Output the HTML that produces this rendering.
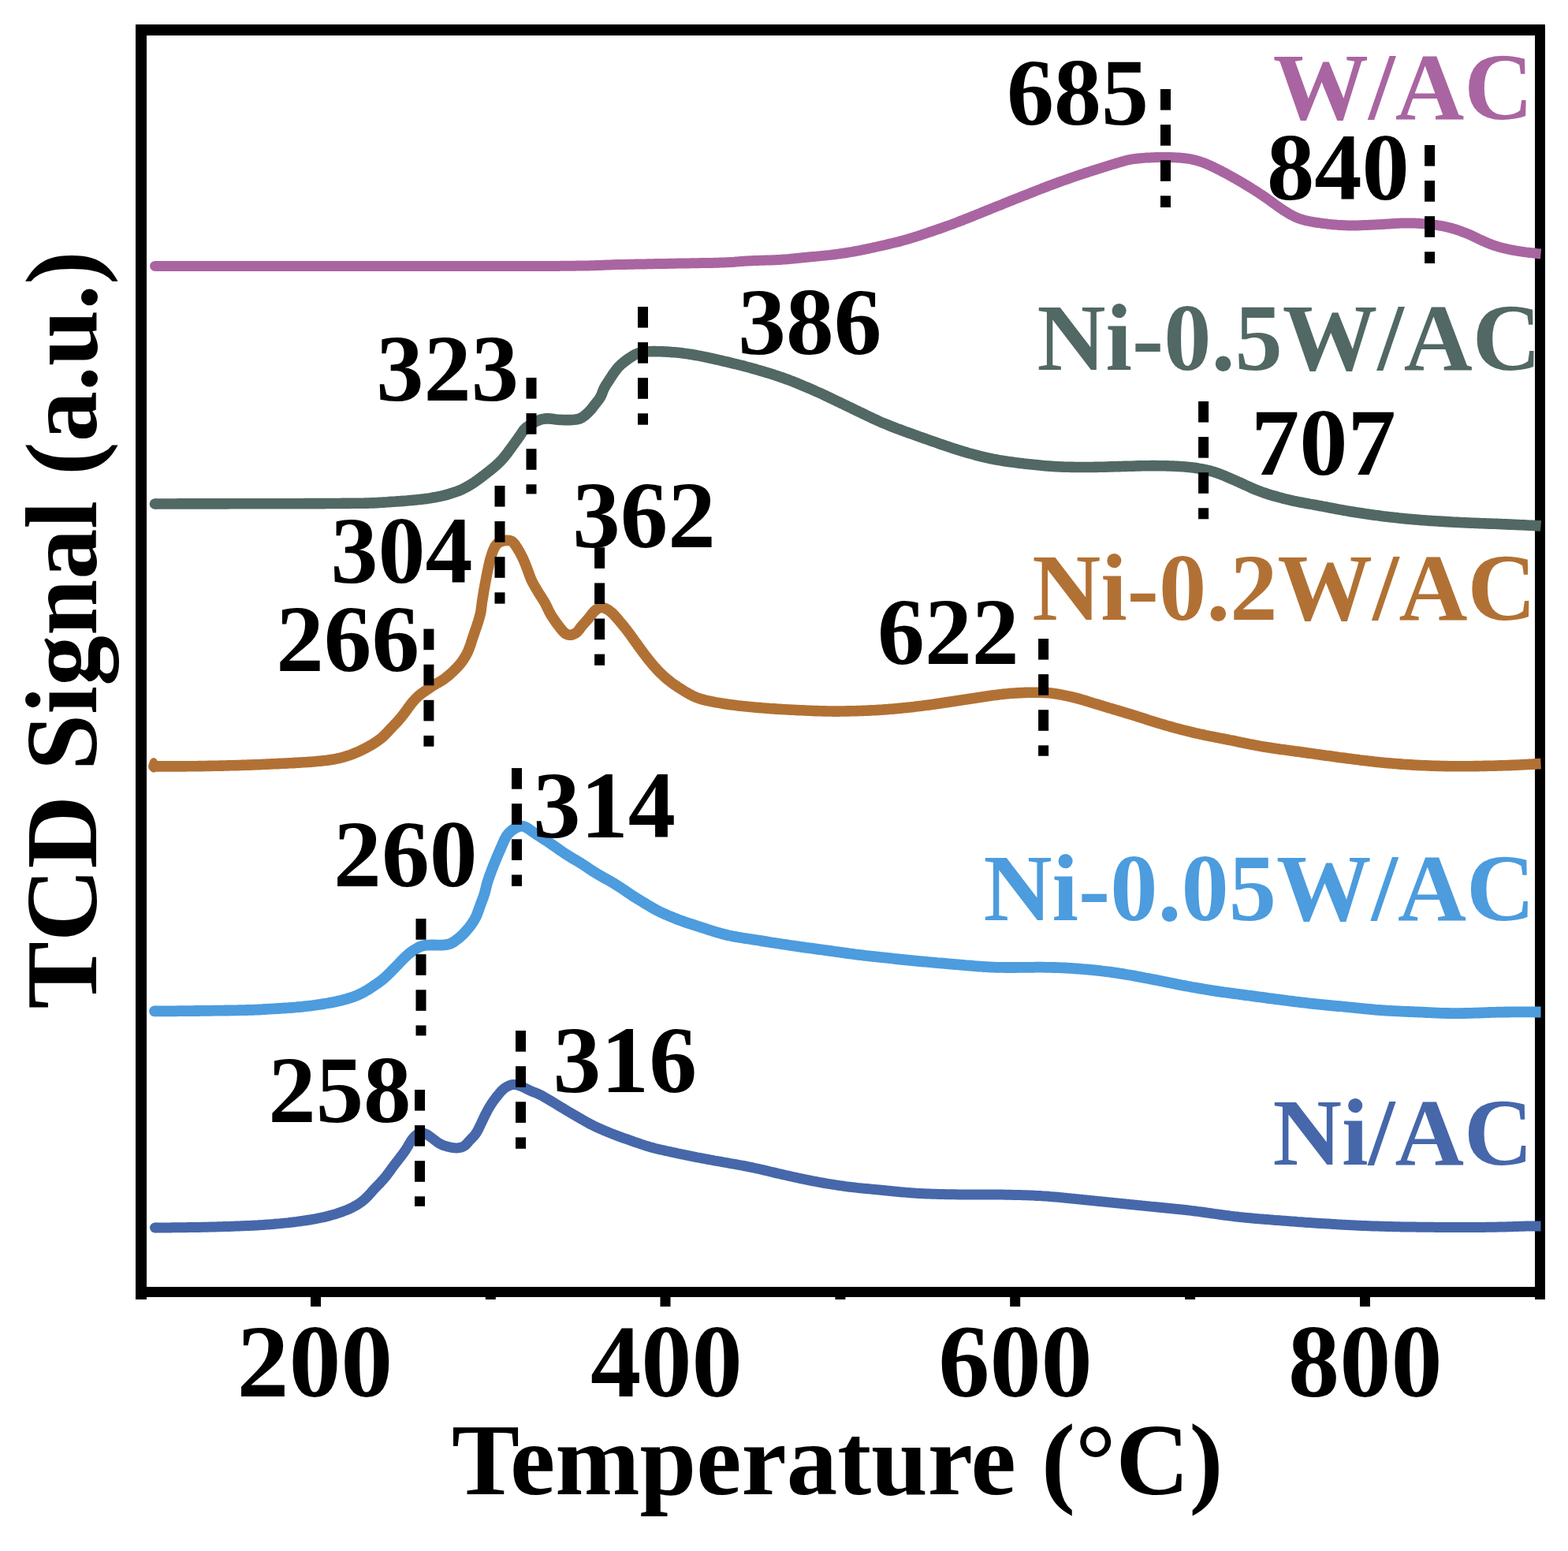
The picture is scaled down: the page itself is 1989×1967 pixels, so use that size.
<!DOCTYPE html><html><head><meta charset="utf-8"><title>TPR</title><style>html,body{margin:0;padding:0;background:#fff;}svg{display:block;}text{font-family:"Liberation Serif","Times New Roman",serif;font-weight:bold;}</style></head><body>
<svg width="1989" height="1967" viewBox="0 0 1989 1967">
<rect width="1989" height="1967" fill="#fff"/>
<g fill="#000">
<rect x="172" y="31" width="1788" height="14"/>
<rect x="172" y="1632" width="1788" height="13"/>
<rect x="172" y="31" width="14" height="1617"/>
<rect x="1947" y="31" width="13" height="1617"/>
<rect x="394.0" y="1640" width="13" height="17"/>
<rect x="837.5" y="1640" width="13" height="17"/>
<rect x="1281.2" y="1640" width="13" height="17"/>
<rect x="1725.0" y="1640" width="13" height="17"/>
<rect x="615.8" y="1640" width="13" height="8"/>
<rect x="1059.4" y="1640" width="13" height="8"/>
<rect x="1503.1" y="1640" width="13" height="8"/>
</g>
<path d="M196.6 337.4 L198.6 337.4 L201.6 337.4 L203.6 337.4 L206.6 337.4 L208.6 337.4 L211.6 337.4 L213.6 337.4 L216.6 337.4 L218.6 337.4 L221.6 337.4 L223.6 337.4 L226.6 337.4 L228.6 337.4 L231.6 337.4 L233.6 337.4 L236.6 337.4 L238.6 337.4 L241.6 337.4 L243.6 337.4 L246.6 337.4 L248.6 337.4 L251.6 337.4 L253.6 337.4 L256.6 337.4 L258.6 337.4 L261.6 337.4 L263.6 337.4 L266.6 337.4 L268.6 337.4 L271.6 337.4 L273.6 337.5 L276.6 337.5 L278.6 337.5 L281.6 337.5 L283.6 337.5 L286.6 337.5 L288.6 337.5 L291.6 337.5 L293.6 337.5 L296.6 337.5 L298.6 337.5 L301.6 337.5 L303.6 337.5 L306.6 337.5 L308.6 337.5 L311.6 337.5 L313.6 337.5 L316.6 337.5 L318.6 337.5 L321.6 337.5 L323.6 337.5 L326.6 337.5 L328.6 337.5 L331.6 337.5 L333.6 337.5 L336.6 337.5 L338.6 337.5 L341.6 337.5 L343.6 337.5 L346.6 337.5 L348.6 337.5 L351.6 337.5 L353.6 337.5 L356.6 337.5 L358.6 337.5 L361.6 337.5 L363.6 337.5 L366.6 337.5 L368.6 337.5 L371.6 337.5 L373.6 337.5 L376.6 337.5 L378.6 337.5 L381.6 337.5 L383.6 337.5 L386.6 337.5 L388.6 337.5 L391.6 337.5 L393.6 337.5 L396.6 337.6 L398.6 337.6 L401.6 337.6 L403.6 337.6 L406.6 337.6 L408.6 337.6 L411.6 337.6 L413.6 337.6 L416.6 337.6 L418.6 337.6 L421.6 337.6 L423.6 337.6 L426.6 337.6 L428.6 337.6 L431.6 337.6 L433.6 337.6 L436.6 337.6 L438.6 337.6 L441.6 337.6 L443.6 337.6 L446.6 337.6 L448.6 337.6 L451.6 337.6 L453.6 337.6 L456.6 337.6 L458.6 337.6 L461.6 337.6 L463.6 337.6 L466.6 337.6 L468.6 337.6 L471.6 337.6 L473.6 337.6 L476.6 337.6 L478.6 337.6 L481.6 337.6 L483.6 337.6 L486.6 337.6 L488.6 337.6 L491.6 337.6 L493.6 337.6 L496.6 337.6 L498.6 337.6 L501.6 337.6 L503.6 337.6 L506.6 337.6 L508.6 337.6 L511.6 337.6 L513.6 337.6 L516.6 337.6 L518.6 337.6 L521.6 337.6 L523.6 337.6 L526.6 337.6 L528.6 337.6 L531.6 337.6 L533.6 337.6 L536.6 337.6 L538.6 337.6 L541.6 337.6 L543.6 337.6 L546.6 337.6 L548.6 337.6 L551.6 337.6 L553.6 337.6 L556.6 337.6 L558.6 337.6 L561.6 337.6 L563.6 337.6 L566.6 337.6 L568.6 337.6 L571.6 337.6 L573.6 337.6 L576.6 337.6 L578.6 337.6 L581.6 337.6 L583.6 337.6 L586.6 337.6 L588.6 337.6 L591.6 337.6 L593.6 337.6 L596.6 337.6 L598.6 337.6 L601.6 337.6 L603.6 337.6 L606.6 337.6 L608.6 337.6 L611.6 337.6 L613.6 337.6 L616.6 337.6 L618.6 337.6 L621.6 337.6 L623.6 337.6 L626.6 337.6 L628.6 337.6 L631.6 337.6 L633.6 337.6 L636.6 337.6 L638.6 337.6 L641.6 337.6 L643.6 337.6 L646.6 337.6 L648.6 337.6 L651.6 337.6 L653.6 337.6 L656.6 337.6 L658.6 337.6 L661.6 337.5 L663.6 337.5 L666.6 337.5 L668.6 337.5 L671.6 337.5 L673.6 337.5 L676.6 337.5 L678.6 337.5 L681.6 337.5 L683.6 337.5 L686.6 337.5 L688.6 337.5 L691.6 337.5 L693.6 337.4 L696.6 337.4 L698.6 337.4 L701.6 337.4 L703.6 337.4 L706.6 337.4 L708.6 337.4 L711.6 337.3 L713.6 337.3 L716.6 337.3 L718.6 337.3 L721.6 337.3 L723.6 337.2 L726.6 337.2 L728.6 337.2 L731.6 337.1 L733.6 337.1 L736.6 337.1 L738.6 337.0 L741.6 337.0 L743.6 337.0 L746.6 336.9 L748.6 336.8 L751.6 336.8 L753.6 336.7 L756.6 336.6 L758.6 336.5 L761.6 336.4 L763.6 336.3 L766.6 336.2 L768.6 336.1 L771.6 336.0 L773.6 335.9 L776.6 335.8 L778.6 335.7 L781.6 335.6 L783.6 335.6 L786.6 335.5 L788.6 335.5 L791.6 335.4 L793.6 335.4 L796.6 335.3 L798.6 335.3 L801.6 335.2 L803.6 335.2 L806.6 335.1 L808.6 335.1 L811.6 335.0 L813.6 335.0 L816.6 334.9 L818.6 334.9 L821.6 334.8 L823.6 334.8 L826.6 334.7 L828.6 334.7 L831.6 334.6 L833.6 334.6 L836.6 334.6 L838.6 334.5 L841.6 334.5 L843.6 334.4 L846.6 334.4 L848.6 334.3 L851.6 334.3 L853.6 334.2 L856.6 334.2 L858.6 334.1 L861.6 334.1 L863.6 334.0 L866.6 334.0 L868.6 334.0 L871.6 333.9 L873.6 333.9 L876.6 333.8 L878.6 333.8 L881.6 333.7 L883.6 333.7 L886.6 333.7 L888.6 333.6 L891.6 333.6 L893.6 333.6 L896.6 333.5 L898.6 333.5 L901.5 333.4 L903.5 333.4 L906.5 333.3 L908.5 333.3 L911.5 333.2 L913.5 333.1 L916.5 333.0 L918.5 332.9 L921.5 332.8 L923.5 332.7 L926.5 332.5 L928.5 332.4 L931.5 332.2 L933.5 332.0 L936.5 331.8 L938.5 331.6 L941.5 331.4 L943.5 331.3 L946.5 331.1 L948.5 331.0 L951.5 330.8 L953.5 330.7 L956.5 330.6 L958.5 330.5 L961.5 330.4 L963.5 330.3 L966.5 330.2 L968.5 330.2 L971.5 330.1 L973.5 330.0 L976.4 329.9 L978.4 329.9 L981.4 329.8 L983.4 329.7 L986.4 329.5 L988.4 329.4 L991.4 329.2 L993.4 329.1 L996.4 328.9 L998.4 328.7 L1001.4 328.5 L1003.4 328.3 L1006.4 328.0 L1008.4 327.8 L1011.4 327.5 L1013.3 327.3 L1016.3 327.0 L1018.3 326.8 L1021.3 326.5 L1023.3 326.3 L1026.3 326.0 L1028.3 325.8 L1031.3 325.5 L1033.2 325.4 L1036.2 325.1 L1038.2 324.9 L1041.2 324.6 L1043.2 324.4 L1046.2 324.1 L1048.2 323.9 L1051.2 323.6 L1053.1 323.4 L1056.1 323.0 L1058.1 322.8 L1061.1 322.4 L1063.1 322.1 L1066.0 321.7 L1068.0 321.4 L1071.0 321.0 L1073.0 320.7 L1075.9 320.2 L1077.9 319.9 L1080.9 319.4 L1082.8 319.0 L1085.8 318.5 L1087.7 318.1 L1090.7 317.6 L1092.6 317.2 L1095.6 316.6 L1097.5 316.2 L1100.5 315.6 L1102.4 315.2 L1105.4 314.5 L1107.3 314.1 L1110.2 313.4 L1112.2 313.0 L1115.1 312.3 L1117.1 311.9 L1120.0 311.2 L1121.9 310.8 L1124.9 310.1 L1126.8 309.6 L1129.7 308.9 L1131.7 308.5 L1134.6 307.8 L1136.5 307.3 L1139.5 306.6 L1141.4 306.1 L1144.3 305.3 L1146.2 304.8 L1149.1 304.0 L1151.0 303.4 L1153.9 302.6 L1155.8 302.0 L1158.7 301.1 L1160.6 300.5 L1163.5 299.6 L1165.4 299.0 L1168.2 298.1 L1170.1 297.4 L1172.9 296.5 L1174.8 295.9 L1177.7 294.9 L1179.6 294.2 L1182.4 293.3 L1184.3 292.6 L1187.1 291.6 L1189.0 291.0 L1191.9 290.0 L1193.8 289.3 L1196.6 288.3 L1198.5 287.7 L1201.3 286.7 L1203.2 286.0 L1206.0 285.0 L1207.9 284.3 L1210.7 283.2 L1212.6 282.5 L1215.4 281.5 L1217.2 280.7 L1220.0 279.7 L1221.9 278.9 L1224.7 277.8 L1226.5 277.1 L1229.3 276.0 L1231.2 275.2 L1234.0 274.1 L1235.8 273.4 L1238.6 272.2 L1240.5 271.5 L1243.2 270.4 L1245.1 269.6 L1247.9 268.5 L1249.7 267.7 L1252.5 266.6 L1254.4 265.9 L1257.1 264.8 L1259.0 264.0 L1261.8 262.9 L1263.6 262.1 L1266.4 261.0 L1268.3 260.3 L1271.1 259.2 L1272.9 258.4 L1275.7 257.3 L1277.6 256.5 L1280.3 255.4 L1282.2 254.7 L1285.0 253.6 L1286.8 252.8 L1289.6 251.7 L1291.5 251.0 L1294.3 249.9 L1296.1 249.1 L1298.9 248.0 L1300.8 247.3 L1303.6 246.2 L1305.4 245.5 L1308.2 244.4 L1310.1 243.6 L1312.9 242.5 L1314.7 241.8 L1317.5 240.7 L1319.4 240.0 L1322.2 238.9 L1324.1 238.2 L1326.9 237.1 L1328.7 236.4 L1331.5 235.3 L1333.4 234.6 L1336.2 233.6 L1338.1 232.9 L1340.9 231.9 L1342.8 231.2 L1345.6 230.2 L1347.5 229.5 L1350.3 228.5 L1352.2 227.8 L1355.0 226.8 L1356.9 226.2 L1359.8 225.2 L1361.7 224.5 L1364.5 223.5 L1366.4 222.9 L1369.2 221.9 L1371.1 221.3 L1374.0 220.3 L1375.9 219.7 L1378.7 218.8 L1380.6 218.1 L1383.5 217.2 L1385.4 216.6 L1388.2 215.7 L1390.1 215.1 L1393.0 214.2 L1394.9 213.6 L1397.8 212.7 L1399.7 212.1 L1402.5 211.2 L1404.4 210.6 L1407.3 209.7 L1409.2 209.1 L1412.1 208.3 L1414.0 207.7 L1416.9 206.8 L1418.8 206.3 L1421.7 205.4 L1423.6 204.9 L1426.5 204.0 L1428.4 203.5 L1431.3 202.8 L1433.3 202.4 L1436.2 201.9 L1438.2 201.6 L1441.2 201.2 L1443.2 201.0 L1446.2 200.7 L1448.2 200.5 L1451.1 200.3 L1453.1 200.1 L1456.1 200.0 L1458.1 199.9 L1461.1 199.7 L1463.1 199.7 L1466.1 199.6 L1468.1 199.5 L1471.1 199.5 L1473.1 199.5 L1476.1 199.5 L1478.1 199.5 L1481.1 199.5 L1483.1 199.5 L1486.1 199.6 L1488.1 199.7 L1491.1 199.8 L1493.1 199.9 L1496.1 200.1 L1498.1 200.2 L1501.1 200.5 L1503.1 200.7 L1506.1 201.1 L1508.0 201.4 L1511.0 201.9 L1512.9 202.3 L1515.9 203.0 L1517.8 203.6 L1520.7 204.4 L1522.6 205.0 L1525.4 206.0 L1527.3 206.7 L1530.1 207.8 L1531.9 208.6 L1534.7 209.8 L1536.5 210.6 L1539.2 211.9 L1541.0 212.8 L1543.7 214.1 L1545.5 215.0 L1548.1 216.3 L1549.9 217.3 L1552.6 218.6 L1554.3 219.6 L1557.0 221.0 L1558.7 222.0 L1561.4 223.4 L1563.1 224.4 L1565.7 225.9 L1567.5 226.9 L1570.1 228.4 L1571.8 229.4 L1574.4 230.9 L1576.1 231.9 L1578.7 233.4 L1580.4 234.5 L1583.0 236.0 L1584.7 237.1 L1587.2 238.6 L1588.9 239.7 L1591.5 241.3 L1593.1 242.4 L1595.7 244.0 L1597.3 245.1 L1599.8 246.7 L1601.5 247.8 L1604.0 249.5 L1605.6 250.7 L1608.1 252.4 L1609.7 253.6 L1612.1 255.3 L1613.7 256.5 L1616.1 258.3 L1617.8 259.5 L1620.2 261.2 L1621.8 262.4 L1624.3 264.1 L1626.0 265.2 L1628.4 266.9 L1630.1 267.9 L1632.7 269.5 L1634.4 270.6 L1637.0 272.1 L1638.7 273.0 L1641.4 274.3 L1643.2 275.2 L1645.9 276.4 L1647.8 277.1 L1650.6 278.0 L1652.5 278.6 L1655.4 279.4 L1657.3 279.9 L1660.2 280.5 L1662.2 280.9 L1665.1 281.4 L1667.1 281.8 L1670.1 282.2 L1672.1 282.5 L1675.0 282.9 L1677.0 283.2 L1680.0 283.6 L1682.0 283.8 L1684.9 284.2 L1686.9 284.4 L1689.9 284.7 L1691.9 284.9 L1694.9 285.1 L1696.9 285.3 L1699.9 285.5 L1701.9 285.6 L1704.9 285.7 L1706.9 285.8 L1709.9 285.9 L1711.9 285.9 L1714.9 285.9 L1716.9 285.9 L1719.9 285.9 L1721.9 285.9 L1724.9 285.8 L1726.9 285.7 L1729.9 285.6 L1731.9 285.5 L1734.8 285.4 L1736.8 285.3 L1739.8 285.2 L1741.8 285.1 L1744.8 284.9 L1746.8 284.8 L1749.8 284.7 L1751.8 284.6 L1754.8 284.4 L1756.8 284.3 L1759.8 284.1 L1761.8 283.9 L1764.8 283.7 L1766.8 283.6 L1769.8 283.4 L1771.8 283.3 L1774.8 283.2 L1776.8 283.1 L1779.8 283.0 L1781.8 283.0 L1784.8 282.9 L1786.8 282.9 L1789.8 283.0 L1791.8 283.0 L1794.8 283.1 L1796.8 283.2 L1799.8 283.3 L1801.8 283.5 L1804.7 283.7 L1806.7 283.8 L1809.7 284.1 L1811.7 284.2 L1814.7 284.6 L1816.7 284.8 L1819.7 285.1 L1821.6 285.4 L1824.6 285.9 L1826.6 286.2 L1829.5 286.7 L1831.5 287.1 L1834.4 287.7 L1836.4 288.2 L1839.3 288.9 L1841.2 289.4 L1844.1 290.2 L1846.0 290.8 L1848.8 291.7 L1850.7 292.4 L1853.6 293.4 L1855.4 294.1 L1858.2 295.1 L1860.1 295.9 L1862.9 297.0 L1864.7 297.8 L1867.4 299.0 L1869.2 299.9 L1871.9 301.2 L1873.7 302.0 L1876.4 303.4 L1878.2 304.2 L1881.0 305.5 L1882.8 306.3 L1885.5 307.5 L1887.3 308.3 L1890.1 309.4 L1892.0 310.1 L1894.8 311.1 L1896.7 311.8 L1899.6 312.6 L1901.5 313.2 L1904.4 314.0 L1906.3 314.5 L1909.2 315.2 L1911.2 315.6 L1914.1 316.3 L1916.1 316.7 L1919.0 317.3 L1921.0 317.6 L1923.9 318.1 L1925.9 318.5 L1928.9 318.9 L1930.8 319.2 L1933.8 319.6 L1935.8 319.9 L1938.8 320.2 L1940.7 320.5 L1943.7 320.8 L1945.7 321.0 L1948.6 321.4 L1950.6 321.6 L1953.5 321.9 L1954.5 322.0" fill="none" stroke="#A965A1" stroke-width="13.0" stroke-linejoin="round"/>
<circle cx="196.6" cy="337.4" r="6.50" fill="#A965A1"/>
<path d="M196.5 639.0 L198.5 639.0 L201.5 639.0 L203.5 639.0 L206.5 639.0 L208.5 639.0 L211.5 639.0 L213.5 639.0 L216.5 639.0 L218.5 639.0 L221.5 639.0 L223.5 639.0 L226.5 638.9 L228.5 638.9 L231.5 638.9 L233.5 638.9 L236.5 638.9 L238.5 638.9 L241.5 638.9 L243.5 638.9 L246.5 638.9 L248.5 638.9 L251.5 638.9 L253.5 638.9 L256.5 638.9 L258.5 638.9 L261.5 638.9 L263.5 638.9 L266.5 638.9 L268.5 638.9 L271.5 638.9 L273.5 638.9 L276.5 638.9 L278.5 638.9 L281.5 638.9 L283.5 638.9 L286.5 638.9 L288.5 638.9 L291.5 638.8 L293.5 638.8 L296.5 638.8 L298.5 638.8 L301.5 638.8 L303.5 638.8 L306.5 638.8 L308.5 638.8 L311.5 638.8 L313.5 638.8 L316.5 638.8 L318.5 638.8 L321.5 638.8 L323.5 638.8 L326.5 638.8 L328.5 638.8 L331.5 638.8 L333.5 638.8 L336.5 638.8 L338.5 638.8 L341.5 638.8 L343.5 638.8 L346.5 638.7 L348.5 638.7 L351.5 638.7 L353.5 638.7 L356.5 638.7 L358.5 638.7 L361.5 638.7 L363.5 638.7 L366.5 638.7 L368.5 638.7 L371.5 638.7 L373.5 638.7 L376.5 638.7 L378.5 638.7 L381.5 638.7 L383.5 638.7 L386.5 638.6 L388.5 638.6 L391.5 638.6 L393.5 638.6 L396.5 638.6 L398.5 638.6 L401.5 638.6 L403.5 638.6 L406.5 638.6 L408.5 638.6 L411.5 638.6 L413.5 638.5 L416.5 638.5 L418.5 638.5 L421.5 638.5 L423.5 638.5 L426.5 638.5 L428.5 638.5 L431.5 638.5 L433.5 638.4 L436.5 638.4 L438.5 638.4 L441.5 638.4 L443.5 638.4 L446.5 638.3 L448.5 638.3 L451.5 638.3 L453.5 638.3 L456.5 638.2 L458.5 638.2 L461.5 638.2 L463.5 638.1 L466.5 638.1 L468.5 638.0 L471.5 637.9 L473.5 637.9 L476.5 637.7 L478.5 637.6 L481.5 637.4 L483.5 637.3 L486.5 637.1 L488.5 637.0 L491.5 636.8 L493.4 636.6 L496.4 636.4 L498.4 636.3 L501.4 636.1 L503.4 635.9 L506.4 635.7 L508.4 635.6 L511.4 635.4 L513.4 635.2 L516.4 635.0 L518.4 634.8 L521.4 634.5 L523.4 634.4 L526.3 634.1 L528.3 633.9 L531.3 633.6 L533.3 633.4 L536.3 633.0 L538.3 632.8 L541.2 632.4 L543.2 632.1 L546.2 631.7 L548.2 631.3 L551.1 630.8 L553.1 630.5 L556.0 629.9 L558.0 629.5 L560.9 628.8 L562.9 628.4 L565.8 627.6 L567.7 627.1 L570.6 626.2 L572.5 625.7 L575.3 624.7 L577.2 624.1 L580.0 623.1 L581.9 622.4 L584.7 621.2 L586.5 620.4 L589.2 619.0 L591.0 618.1 L593.6 616.7 L595.3 615.7 L597.9 614.1 L599.6 613.0 L602.1 611.4 L603.7 610.2 L606.2 608.5 L607.8 607.3 L610.2 605.5 L611.8 604.3 L614.1 602.5 L615.7 601.2 L618.1 599.4 L619.6 598.2 L622.0 596.3 L623.6 595.1 L625.9 593.2 L627.4 591.9 L629.7 589.9 L631.1 588.5 L633.3 586.5 L634.7 585.1 L636.8 582.9 L638.1 581.4 L640.0 579.1 L641.3 577.5 L643.1 575.2 L644.3 573.6 L646.1 571.2 L647.3 569.5 L649.1 567.1 L650.2 565.5 L652.0 563.1 L653.2 561.4 L654.9 559.0 L656.1 557.4 L657.8 554.9 L659.0 553.3 L660.6 550.8 L661.7 549.1 L663.4 546.7 L664.6 545.1 L666.7 543.0 L668.2 541.7 L670.7 539.9 L672.3 538.8 L674.8 537.2 L676.6 536.2 L679.2 534.8 L681.0 533.9 L683.8 532.8 L685.7 532.1 L688.6 531.4 L690.6 531.1 L693.5 530.9 L695.5 530.9 L698.5 531.1 L700.5 531.3 L703.5 531.7 L705.5 532.0 L708.4 532.3 L710.4 532.4 L713.4 532.5 L715.4 532.6 L718.4 532.6 L720.4 532.6 L723.4 532.6 L725.4 532.5 L728.4 532.3 L730.4 532.1 L733.3 531.5 L735.2 531.0 L737.9 529.7 L739.6 528.6 L742.0 526.8 L743.5 525.5 L745.7 523.5 L747.1 522.1 L749.2 519.9 L750.4 518.4 L752.3 516.0 L753.5 514.4 L755.3 512.1 L756.6 510.5 L758.5 508.1 L759.7 506.5 L761.3 504.1 L762.3 502.3 L763.5 499.6 L764.1 497.7 L765.2 494.9 L766.0 493.1 L767.4 490.4 L768.4 488.7 L770.0 486.2 L771.1 484.5 L772.8 482.0 L773.8 480.3 L775.4 477.8 L776.5 476.1 L778.2 473.6 L779.4 472.0 L781.2 469.6 L782.4 468.0 L784.3 465.7 L785.7 464.3 L787.9 462.2 L789.4 460.9 L791.7 459.0 L793.3 457.8 L795.7 456.0 L797.3 454.8 L799.8 453.2 L801.5 452.1 L804.1 450.5 L805.8 449.6 L808.6 448.4 L810.4 447.7 L813.3 447.0 L815.3 446.6 L818.3 446.2 L820.2 446.0 L823.2 445.8 L825.2 445.7 L828.2 445.6 L830.2 445.6 L833.2 445.7 L835.2 445.7 L838.2 445.8 L840.2 445.9 L843.2 446.0 L845.2 446.1 L848.2 446.3 L850.2 446.4 L853.2 446.7 L855.2 446.8 L858.1 447.1 L860.1 447.3 L863.1 447.6 L865.1 447.8 L868.1 448.2 L870.1 448.4 L873.0 448.9 L875.0 449.2 L878.0 449.6 L879.9 450.0 L882.9 450.5 L884.9 450.9 L887.8 451.4 L889.8 451.8 L892.7 452.4 L894.7 452.8 L897.6 453.4 L899.5 453.9 L902.5 454.5 L904.4 454.9 L907.4 455.6 L909.3 456.0 L912.2 456.7 L914.2 457.1 L917.1 457.8 L919.1 458.3 L922.0 458.9 L923.9 459.4 L926.8 460.1 L928.8 460.6 L931.7 461.3 L933.7 461.7 L936.6 462.5 L938.5 463.0 L941.4 463.7 L943.3 464.2 L946.2 465.0 L948.2 465.5 L951.1 466.3 L953.0 466.8 L955.9 467.6 L957.8 468.1 L960.7 469.0 L962.6 469.5 L965.5 470.4 L967.4 470.9 L970.3 471.8 L972.2 472.4 L975.1 473.2 L977.0 473.8 L979.8 474.7 L981.8 475.3 L984.6 476.3 L986.5 476.9 L989.3 477.9 L991.2 478.5 L994.1 479.5 L995.9 480.2 L998.8 481.2 L1000.6 481.9 L1003.4 483.0 L1005.3 483.7 L1008.1 484.8 L1009.9 485.6 L1012.7 486.7 L1014.6 487.5 L1017.3 488.6 L1019.2 489.4 L1021.9 490.6 L1023.8 491.3 L1026.5 492.5 L1028.4 493.3 L1031.1 494.5 L1033.0 495.3 L1035.7 496.6 L1037.5 497.4 L1040.3 498.6 L1042.1 499.4 L1044.8 500.7 L1046.6 501.5 L1049.3 502.8 L1051.1 503.7 L1053.8 505.0 L1055.6 505.8 L1058.3 507.1 L1060.1 508.0 L1062.9 509.3 L1064.7 510.2 L1067.4 511.5 L1069.2 512.3 L1071.9 513.7 L1073.7 514.5 L1076.4 515.8 L1078.2 516.7 L1080.9 518.0 L1082.7 518.9 L1085.4 520.2 L1087.2 521.0 L1089.9 522.3 L1091.7 523.2 L1094.4 524.5 L1096.2 525.4 L1098.9 526.7 L1100.7 527.6 L1103.4 528.8 L1105.2 529.7 L1107.9 531.0 L1109.7 531.8 L1112.5 533.0 L1114.3 533.9 L1117.0 535.1 L1118.9 535.9 L1121.6 537.0 L1123.5 537.8 L1126.2 538.9 L1128.1 539.7 L1130.9 540.8 L1132.8 541.5 L1135.6 542.6 L1137.4 543.3 L1140.2 544.3 L1142.1 545.0 L1144.9 546.1 L1146.8 546.8 L1149.6 547.8 L1151.5 548.5 L1154.3 549.5 L1156.2 550.2 L1159.0 551.2 L1160.9 551.9 L1163.7 552.9 L1165.6 553.6 L1168.4 554.6 L1170.3 555.2 L1173.2 556.2 L1175.0 556.9 L1177.9 557.9 L1179.8 558.6 L1182.6 559.6 L1184.5 560.2 L1187.3 561.2 L1189.2 561.9 L1192.0 562.9 L1193.9 563.5 L1196.8 564.5 L1198.7 565.1 L1201.5 566.1 L1203.4 566.7 L1206.2 567.7 L1208.1 568.3 L1211.0 569.2 L1212.9 569.8 L1215.8 570.7 L1217.7 571.3 L1220.5 572.2 L1222.4 572.8 L1225.3 573.6 L1227.2 574.2 L1230.1 575.0 L1232.1 575.5 L1235.0 576.3 L1236.9 576.8 L1239.8 577.6 L1241.7 578.1 L1244.6 578.8 L1246.6 579.3 L1249.5 580.0 L1251.4 580.4 L1254.4 581.1 L1256.3 581.5 L1259.3 582.1 L1261.2 582.5 L1264.2 583.0 L1266.1 583.4 L1269.1 583.9 L1271.1 584.2 L1274.0 584.7 L1276.0 585.0 L1279.0 585.4 L1281.0 585.7 L1283.9 586.1 L1285.9 586.4 L1288.9 586.8 L1290.9 587.0 L1293.8 587.4 L1295.8 587.6 L1298.8 588.0 L1300.8 588.2 L1303.8 588.6 L1305.8 588.8 L1308.7 589.1 L1310.7 589.3 L1313.7 589.6 L1315.7 589.8 L1318.7 590.1 L1320.7 590.3 L1323.7 590.6 L1325.7 590.7 L1328.7 591.0 L1330.7 591.1 L1333.6 591.3 L1335.6 591.5 L1338.6 591.6 L1340.6 591.7 L1343.6 591.9 L1345.6 592.0 L1348.6 592.1 L1350.6 592.2 L1353.6 592.3 L1355.6 592.3 L1358.6 592.4 L1360.6 592.4 L1363.6 592.5 L1365.6 592.5 L1368.6 592.5 L1370.6 592.5 L1373.6 592.5 L1375.6 592.5 L1378.6 592.5 L1380.6 592.5 L1383.6 592.5 L1385.6 592.5 L1388.6 592.4 L1390.6 592.4 L1393.6 592.3 L1395.6 592.3 L1398.6 592.2 L1400.6 592.2 L1403.6 592.1 L1405.6 592.0 L1408.6 591.9 L1410.6 591.9 L1413.6 591.8 L1415.6 591.7 L1418.6 591.6 L1420.6 591.6 L1423.6 591.5 L1425.6 591.4 L1428.6 591.4 L1430.6 591.3 L1433.6 591.2 L1435.6 591.2 L1438.6 591.1 L1440.6 591.0 L1443.6 590.9 L1445.6 590.9 L1448.6 590.8 L1450.6 590.8 L1453.6 590.7 L1455.6 590.7 L1458.6 590.7 L1460.6 590.6 L1463.6 590.6 L1465.6 590.6 L1468.6 590.7 L1470.6 590.7 L1473.6 590.7 L1475.6 590.8 L1478.6 590.8 L1480.6 590.9 L1483.6 591.0 L1485.6 591.0 L1488.6 591.1 L1490.6 591.2 L1493.6 591.4 L1495.6 591.5 L1498.6 591.7 L1500.6 591.8 L1503.5 592.0 L1505.5 592.2 L1508.5 592.5 L1510.5 592.7 L1513.5 593.1 L1515.5 593.3 L1518.4 593.8 L1520.4 594.1 L1523.4 594.6 L1525.3 595.0 L1528.3 595.6 L1530.2 596.0 L1533.1 596.7 L1535.0 597.2 L1537.9 598.0 L1539.8 598.6 L1542.7 599.5 L1544.6 600.2 L1547.4 601.2 L1549.3 601.9 L1552.1 603.0 L1553.9 603.7 L1556.7 604.9 L1558.5 605.7 L1561.3 606.9 L1563.1 607.7 L1565.8 608.9 L1567.7 609.7 L1570.4 610.9 L1572.2 611.7 L1575.0 613.0 L1576.8 613.8 L1579.5 615.1 L1581.3 615.9 L1584.1 617.2 L1585.9 618.0 L1588.6 619.2 L1590.4 620.0 L1593.2 621.2 L1595.1 621.9 L1597.9 623.0 L1599.7 623.7 L1602.5 624.7 L1604.4 625.3 L1607.3 626.3 L1609.2 626.9 L1612.1 627.8 L1614.0 628.3 L1616.9 629.2 L1618.8 629.7 L1621.7 630.5 L1623.6 631.0 L1626.5 631.8 L1628.4 632.3 L1631.4 633.0 L1633.3 633.5 L1636.2 634.2 L1638.2 634.6 L1641.1 635.3 L1643.1 635.7 L1646.0 636.3 L1647.9 636.7 L1650.9 637.2 L1652.9 637.6 L1655.8 638.2 L1657.8 638.5 L1660.7 639.1 L1662.7 639.4 L1665.7 639.9 L1667.6 640.3 L1670.6 640.8 L1672.5 641.2 L1675.5 641.7 L1677.5 642.1 L1680.4 642.6 L1682.4 643.0 L1685.3 643.6 L1687.3 644.0 L1690.2 644.5 L1692.2 644.9 L1695.1 645.5 L1697.1 645.8 L1700.1 646.4 L1702.0 646.7 L1705.0 647.3 L1706.9 647.6 L1709.9 648.1 L1711.9 648.5 L1714.8 649.0 L1716.8 649.3 L1719.8 649.8 L1721.7 650.1 L1724.7 650.5 L1726.7 650.8 L1729.6 651.3 L1731.6 651.6 L1734.6 652.0 L1736.6 652.3 L1739.5 652.7 L1741.5 653.0 L1744.5 653.4 L1746.5 653.6 L1749.5 654.0 L1751.4 654.3 L1754.4 654.7 L1756.4 654.9 L1759.4 655.3 L1761.4 655.5 L1764.3 655.9 L1766.3 656.1 L1769.3 656.4 L1771.3 656.6 L1774.3 657.0 L1776.3 657.2 L1779.3 657.5 L1781.2 657.7 L1784.2 658.0 L1786.2 658.2 L1789.2 658.4 L1791.2 658.6 L1794.2 658.9 L1796.2 659.0 L1799.2 659.3 L1801.2 659.4 L1804.2 659.7 L1806.2 659.8 L1809.1 660.0 L1811.1 660.2 L1814.1 660.4 L1816.1 660.5 L1819.1 660.7 L1821.1 660.8 L1824.1 661.0 L1826.1 661.1 L1829.1 661.3 L1831.1 661.4 L1834.1 661.6 L1836.1 661.7 L1839.1 661.9 L1841.1 662.0 L1844.1 662.2 L1846.1 662.3 L1849.1 662.4 L1851.1 662.5 L1854.1 662.7 L1856.1 662.8 L1859.1 662.9 L1861.1 663.0 L1864.1 663.1 L1866.1 663.2 L1869.0 663.3 L1871.0 663.4 L1874.0 663.5 L1876.0 663.6 L1879.0 663.7 L1881.0 663.8 L1884.0 663.9 L1886.0 664.0 L1889.0 664.1 L1891.0 664.1 L1894.0 664.3 L1896.0 664.3 L1899.0 664.4 L1901.0 664.5 L1904.0 664.6 L1906.0 664.7 L1909.0 664.9 L1911.0 664.9 L1914.0 665.1 L1916.0 665.1 L1919.0 665.3 L1921.0 665.4 L1924.0 665.5 L1926.0 665.6 L1929.0 665.7 L1931.0 665.8 L1934.0 665.9 L1936.0 666.0 L1939.0 666.2 L1941.0 666.3 L1943.9 666.4 L1945.9 666.5 L1948.8 666.7 L1950.7 666.8 L1953.5 666.9 L1954.5 667.0" fill="none" stroke="#516864" stroke-width="13.6" stroke-linejoin="round"/>
<circle cx="196.5" cy="639.0" r="6.80" fill="#516864"/>
<path d="M194.9 971.9 L196.9 971.9 L199.9 971.9 L201.9 971.9 L204.9 971.9 L206.9 971.9 L209.9 971.9 L211.9 971.9 L214.9 971.9 L216.9 971.9 L219.9 971.9 L221.9 971.9 L224.9 971.9 L226.9 971.9 L229.9 971.9 L231.9 971.9 L234.9 971.9 L236.9 971.8 L239.9 971.8 L241.9 971.8 L244.9 971.7 L246.9 971.7 L249.9 971.7 L251.9 971.6 L254.9 971.6 L256.9 971.6 L259.9 971.5 L261.9 971.5 L264.9 971.4 L266.9 971.4 L269.9 971.3 L271.9 971.3 L274.9 971.2 L276.9 971.2 L279.9 971.1 L281.9 971.1 L284.9 971.0 L286.9 971.0 L289.9 970.9 L291.9 970.8 L294.9 970.7 L296.9 970.7 L299.9 970.6 L301.9 970.6 L304.9 970.5 L306.9 970.4 L309.9 970.3 L311.9 970.2 L314.9 970.1 L316.9 970.1 L319.9 970.0 L321.9 969.9 L324.9 969.8 L326.9 969.7 L329.9 969.6 L331.9 969.5 L334.9 969.3 L336.9 969.3 L339.9 969.1 L341.9 969.0 L344.9 968.9 L346.9 968.8 L349.8 968.7 L351.8 968.6 L354.8 968.4 L356.8 968.3 L359.8 968.2 L361.8 968.1 L364.8 968.0 L366.8 967.8 L369.8 967.7 L371.8 967.6 L374.8 967.4 L376.8 967.3 L379.8 967.1 L381.8 967.0 L384.8 966.8 L386.8 966.7 L389.8 966.5 L391.8 966.4 L394.8 966.2 L396.8 966.0 L399.8 965.8 L401.8 965.6 L404.7 965.3 L406.7 965.2 L409.7 964.8 L411.7 964.6 L414.7 964.3 L416.7 964.0 L419.6 963.5 L421.6 963.2 L424.5 962.7 L426.5 962.3 L429.4 961.7 L431.4 961.3 L434.3 960.5 L436.2 960.0 L439.1 959.1 L441.0 958.5 L443.8 957.6 L445.7 956.9 L448.5 955.8 L450.3 955.0 L453.1 953.9 L454.9 953.1 L457.6 951.8 L459.4 950.9 L462.1 949.6 L463.9 948.7 L466.5 947.3 L468.3 946.3 L470.9 944.8 L472.6 943.8 L475.1 942.2 L476.8 941.1 L479.3 939.4 L480.9 938.2 L483.3 936.4 L484.8 935.1 L487.0 933.1 L488.4 931.7 L490.5 929.5 L491.9 928.1 L493.9 925.9 L495.3 924.4 L497.4 922.2 L498.8 920.8 L500.8 918.6 L502.2 917.2 L504.3 915.0 L505.6 913.5 L507.5 911.2 L508.8 909.7 L510.7 907.3 L511.9 905.8 L513.7 903.4 L514.9 901.8 L516.7 899.3 L517.8 897.7 L519.6 895.3 L520.8 893.7 L522.7 891.3 L524.0 889.8 L525.9 887.6 L527.3 886.1 L529.4 884.0 L530.9 882.7 L533.2 880.7 L534.8 879.5 L537.2 877.8 L538.9 876.6 L541.4 874.9 L543.0 873.8 L545.5 872.1 L547.2 871.0 L549.6 869.3 L551.3 868.3 L553.9 866.7 L555.7 865.8 L558.3 864.3 L560.0 863.3 L562.5 861.7 L564.2 860.5 L566.5 858.7 L568.1 857.4 L570.4 855.5 L571.9 854.2 L574.1 852.1 L575.5 850.7 L577.6 848.6 L579.0 847.2 L581.1 845.0 L582.4 843.5 L584.4 841.2 L585.6 839.6 L587.3 837.2 L588.4 835.5 L590.0 833.0 L591.0 831.3 L592.4 828.6 L593.3 826.8 L594.5 824.1 L595.2 822.2 L596.2 819.4 L596.9 817.5 L597.8 814.6 L598.4 812.7 L599.3 809.9 L600.0 808.0 L600.9 805.1 L601.6 803.2 L602.5 800.4 L603.2 798.5 L604.2 795.7 L604.8 793.8 L605.7 790.9 L606.4 789.0 L607.2 786.2 L607.8 784.3 L608.6 781.4 L609.1 779.4 L609.8 776.5 L610.1 774.5 L610.5 771.6 L610.7 769.6 L611.1 766.6 L611.3 764.6 L611.8 761.7 L612.1 759.7 L612.6 756.7 L612.9 754.7 L613.4 751.8 L613.7 749.8 L614.2 746.9 L614.6 744.9 L615.1 741.9 L615.5 740.0 L616.0 737.0 L616.4 735.0 L616.9 732.1 L617.3 730.1 L617.9 727.2 L618.3 725.2 L618.9 722.3 L619.3 720.3 L620.0 717.4 L620.4 715.5 L621.1 712.5 L621.6 710.6 L622.4 707.7 L623.0 705.8 L623.9 702.9 L624.5 701.0 L625.5 698.2 L626.3 696.4 L627.6 693.7 L628.6 692.0 L630.5 689.8 L632.1 688.5 L634.7 687.1 L636.5 686.5 L639.4 685.7 L641.4 685.4 L644.4 685.3 L646.3 685.5 L649.0 686.4 L650.6 687.5 L652.6 689.7 L653.7 691.3 L655.4 693.8 L656.4 695.5 L658.0 698.1 L659.0 699.8 L660.4 702.4 L661.3 704.2 L662.7 706.9 L663.5 708.7 L664.8 711.4 L665.5 713.3 L666.6 716.0 L667.4 717.9 L668.5 720.7 L669.2 722.6 L670.2 725.4 L670.9 727.3 L671.9 730.1 L672.6 732.0 L673.7 734.7 L674.6 736.6 L675.9 739.2 L676.9 741.0 L678.3 743.6 L679.4 745.3 L680.9 747.9 L681.9 749.6 L683.5 752.2 L684.5 753.9 L686.2 756.4 L687.2 758.1 L688.8 760.6 L689.9 762.3 L691.4 764.9 L692.3 766.7 L693.7 769.4 L694.5 771.2 L695.8 773.9 L696.7 775.7 L698.1 778.3 L699.1 780.1 L700.7 782.6 L701.8 784.3 L703.5 786.8 L704.6 788.4 L706.4 790.8 L707.6 792.4 L709.4 794.8 L710.6 796.4 L712.5 798.7 L713.8 800.2 L715.9 802.4 L717.4 803.6 L720.1 804.8 L721.9 805.2 L724.9 805.1 L726.8 804.6 L729.5 803.4 L731.1 802.3 L733.2 800.3 L734.5 798.7 L736.2 796.3 L737.4 794.7 L739.4 792.4 L740.7 790.9 L742.7 788.7 L744.1 787.2 L746.0 785.0 L747.3 783.4 L749.1 781.0 L750.3 779.4 L752.2 777.1 L753.5 775.6 L755.7 773.6 L757.3 772.4 L759.9 771.0 L761.8 770.5 L764.6 770.5 L766.5 771.0 L769.2 772.2 L770.9 773.2 L773.4 774.9 L775.0 776.1 L777.2 778.1 L778.6 779.5 L780.7 781.7 L782.0 783.2 L784.0 785.5 L785.2 787.0 L787.1 789.4 L788.4 790.9 L790.3 793.2 L791.6 794.7 L793.5 797.1 L794.7 798.6 L796.5 801.0 L797.7 802.6 L799.5 805.0 L800.7 806.7 L802.4 809.1 L803.6 810.7 L805.3 813.2 L806.5 814.8 L808.3 817.2 L809.4 818.8 L811.2 821.3 L812.4 822.9 L814.1 825.3 L815.3 826.9 L817.1 829.3 L818.3 830.9 L820.2 833.3 L821.4 834.9 L823.2 837.2 L824.5 838.8 L826.4 841.1 L827.7 842.6 L829.6 844.9 L831.0 846.4 L833.0 848.6 L834.3 850.1 L836.4 852.2 L837.8 853.6 L840.0 855.7 L841.5 857.1 L843.7 859.1 L845.2 860.4 L847.5 862.3 L849.1 863.5 L851.4 865.4 L853.0 866.6 L855.5 868.3 L857.1 869.4 L859.6 871.1 L861.3 872.2 L863.8 873.8 L865.5 874.9 L868.0 876.5 L869.7 877.5 L872.3 879.0 L874.0 880.0 L876.7 881.4 L878.4 882.3 L881.1 883.6 L883.0 884.4 L885.8 885.4 L887.6 886.0 L890.5 886.9 L892.4 887.4 L895.3 888.2 L897.3 888.6 L900.2 889.2 L902.2 889.6 L905.1 890.2 L907.1 890.6 L910.0 891.1 L912.0 891.4 L914.9 891.9 L916.9 892.2 L919.9 892.7 L921.9 893.0 L924.8 893.4 L926.8 893.7 L929.8 894.1 L931.8 894.3 L934.8 894.7 L936.7 894.9 L939.7 895.3 L941.7 895.5 L944.7 895.8 L946.7 896.0 L949.7 896.3 L951.7 896.5 L954.6 896.8 L956.6 896.9 L959.6 897.2 L961.6 897.4 L964.6 897.6 L966.6 897.8 L969.6 898.0 L971.6 898.2 L974.6 898.4 L976.6 898.6 L979.6 898.8 L981.6 898.9 L984.6 899.1 L986.5 899.2 L989.5 899.4 L991.5 899.5 L994.5 899.7 L996.5 899.8 L999.5 900.0 L1001.5 900.1 L1004.5 900.2 L1006.5 900.3 L1009.5 900.5 L1011.5 900.6 L1014.5 900.7 L1016.5 900.8 L1019.5 900.9 L1021.5 901.0 L1024.5 901.2 L1026.5 901.3 L1029.5 901.4 L1031.5 901.5 L1034.5 901.6 L1036.5 901.6 L1039.5 901.7 L1041.5 901.8 L1044.5 901.9 L1046.5 901.9 L1049.5 902.0 L1051.5 902.0 L1054.5 902.0 L1056.5 902.1 L1059.5 902.1 L1061.5 902.1 L1064.5 902.1 L1066.5 902.0 L1069.5 902.0 L1071.5 902.0 L1074.5 901.9 L1076.5 901.9 L1079.5 901.8 L1081.5 901.8 L1084.5 901.7 L1086.5 901.6 L1089.5 901.5 L1091.5 901.5 L1094.5 901.4 L1096.5 901.3 L1099.5 901.2 L1101.5 901.1 L1104.5 900.9 L1106.5 900.8 L1109.5 900.7 L1111.4 900.6 L1114.4 900.4 L1116.4 900.3 L1119.4 900.1 L1121.4 899.9 L1124.4 899.7 L1126.4 899.6 L1129.4 899.3 L1131.4 899.2 L1134.4 898.9 L1136.4 898.7 L1139.4 898.4 L1141.4 898.3 L1144.3 898.0 L1146.3 897.8 L1149.3 897.5 L1151.3 897.2 L1154.3 896.9 L1156.3 896.7 L1159.3 896.4 L1161.2 896.1 L1164.2 895.8 L1166.2 895.5 L1169.2 895.2 L1171.2 894.9 L1174.1 894.5 L1176.1 894.3 L1179.1 893.9 L1181.1 893.6 L1184.1 893.2 L1186.0 892.9 L1189.0 892.5 L1191.0 892.2 L1194.0 891.8 L1195.9 891.5 L1198.9 891.1 L1200.9 890.8 L1203.8 890.3 L1205.8 890.0 L1208.8 889.6 L1210.8 889.3 L1213.7 888.8 L1215.7 888.5 L1218.7 888.1 L1220.6 887.7 L1223.6 887.3 L1225.6 887.0 L1228.6 886.5 L1230.5 886.2 L1233.5 885.8 L1235.5 885.5 L1238.4 885.0 L1240.4 884.7 L1243.4 884.3 L1245.4 884.0 L1248.3 883.5 L1250.3 883.2 L1253.3 882.8 L1255.3 882.5 L1258.2 882.1 L1260.2 881.8 L1263.2 881.4 L1265.2 881.2 L1268.1 880.8 L1270.1 880.6 L1273.1 880.2 L1275.1 880.0 L1278.1 879.8 L1280.1 879.6 L1283.1 879.3 L1285.1 879.2 L1288.0 879.0 L1290.0 878.9 L1293.0 878.7 L1295.0 878.6 L1298.0 878.5 L1300.0 878.4 L1303.0 878.3 L1305.0 878.3 L1308.0 878.2 L1310.0 878.2 L1313.0 878.2 L1315.0 878.2 L1318.0 878.2 L1320.0 878.2 L1323.0 878.4 L1325.0 878.5 L1328.0 878.7 L1330.0 878.8 L1333.0 879.1 L1335.0 879.3 L1337.9 879.7 L1339.9 880.0 L1342.9 880.5 L1344.8 880.8 L1347.8 881.4 L1349.7 881.8 L1352.7 882.4 L1354.6 882.8 L1357.6 883.4 L1359.5 883.9 L1362.4 884.6 L1364.4 885.1 L1367.3 885.9 L1369.2 886.4 L1372.1 887.2 L1374.0 887.8 L1376.9 888.6 L1378.8 889.2 L1381.6 890.1 L1383.6 890.7 L1386.4 891.6 L1388.3 892.2 L1391.2 893.0 L1393.1 893.6 L1396.0 894.5 L1397.9 895.1 L1400.8 896.0 L1402.7 896.5 L1405.6 897.4 L1407.5 898.0 L1410.4 898.8 L1412.3 899.4 L1415.1 900.2 L1417.1 900.8 L1419.9 901.7 L1421.8 902.2 L1424.7 903.1 L1426.6 903.7 L1429.5 904.6 L1431.4 905.1 L1434.3 906.0 L1436.2 906.6 L1439.1 907.5 L1441.0 908.1 L1443.8 909.0 L1445.7 909.6 L1448.6 910.5 L1450.5 911.1 L1453.4 912.0 L1455.3 912.7 L1458.1 913.6 L1460.0 914.2 L1462.9 915.1 L1464.8 915.7 L1467.7 916.6 L1469.6 917.1 L1472.4 918.0 L1474.4 918.6 L1477.2 919.4 L1479.2 920.0 L1482.1 920.8 L1484.0 921.3 L1486.9 922.1 L1488.8 922.7 L1491.7 923.5 L1493.6 924.0 L1496.5 924.7 L1498.5 925.3 L1501.4 926.0 L1503.3 926.5 L1506.2 927.2 L1508.1 927.7 L1511.1 928.4 L1513.0 928.9 L1515.9 929.6 L1517.9 930.0 L1520.8 930.7 L1522.8 931.1 L1525.7 931.7 L1527.6 932.2 L1530.6 932.8 L1532.5 933.2 L1535.5 933.8 L1537.4 934.1 L1540.4 934.7 L1542.3 935.1 L1545.3 935.7 L1547.3 936.1 L1550.2 936.6 L1552.2 937.0 L1555.1 937.6 L1557.1 938.0 L1560.0 938.6 L1562.0 938.9 L1564.9 939.5 L1566.9 939.9 L1569.8 940.6 L1571.8 941.0 L1574.7 941.6 L1576.7 942.0 L1579.6 942.6 L1581.6 943.0 L1584.5 943.6 L1586.5 944.0 L1589.4 944.5 L1591.4 944.9 L1594.3 945.5 L1596.3 945.8 L1599.2 946.4 L1601.2 946.7 L1604.2 947.2 L1606.1 947.5 L1609.1 948.0 L1611.1 948.3 L1614.0 948.8 L1616.0 949.0 L1619.0 949.5 L1621.0 949.7 L1623.9 950.2 L1625.9 950.4 L1628.9 950.8 L1630.9 951.1 L1633.9 951.5 L1635.8 951.8 L1638.8 952.2 L1640.8 952.5 L1643.8 952.9 L1645.7 953.1 L1648.7 953.5 L1650.7 953.8 L1653.7 954.2 L1655.7 954.5 L1658.6 954.9 L1660.6 955.2 L1663.6 955.6 L1665.6 955.9 L1668.5 956.3 L1670.5 956.6 L1673.5 957.0 L1675.5 957.3 L1678.4 957.7 L1680.4 958.0 L1683.4 958.4 L1685.4 958.6 L1688.3 959.0 L1690.3 959.3 L1693.3 959.7 L1695.3 960.0 L1698.2 960.4 L1700.2 960.7 L1703.2 961.0 L1705.2 961.3 L1708.2 961.7 L1710.1 962.0 L1713.1 962.3 L1715.1 962.6 L1718.1 963.0 L1720.1 963.2 L1723.0 963.6 L1725.0 963.9 L1728.0 964.2 L1730.0 964.5 L1733.0 964.8 L1735.0 965.1 L1737.9 965.4 L1739.9 965.6 L1742.9 966.0 L1744.9 966.2 L1747.9 966.5 L1749.9 966.7 L1752.8 967.0 L1754.8 967.2 L1757.8 967.5 L1759.8 967.7 L1762.8 967.9 L1764.8 968.1 L1767.8 968.4 L1769.8 968.5 L1772.8 968.8 L1774.8 968.9 L1777.8 969.1 L1779.7 969.3 L1782.7 969.5 L1784.7 969.6 L1787.7 969.8 L1789.7 969.9 L1792.7 970.1 L1794.7 970.2 L1797.7 970.4 L1799.7 970.5 L1802.7 970.6 L1804.7 970.7 L1807.7 970.8 L1809.7 970.9 L1812.7 971.0 L1814.7 971.1 L1817.7 971.2 L1819.7 971.3 L1822.7 971.4 L1824.7 971.4 L1827.7 971.5 L1829.7 971.5 L1832.7 971.6 L1834.7 971.6 L1837.7 971.7 L1839.7 971.7 L1842.7 971.7 L1844.7 971.8 L1847.7 971.8 L1849.7 971.8 L1852.7 971.8 L1854.7 971.8 L1857.7 971.8 L1859.7 971.8 L1862.7 971.7 L1864.7 971.7 L1867.7 971.7 L1869.7 971.6 L1872.7 971.6 L1874.7 971.6 L1877.7 971.5 L1879.7 971.5 L1882.7 971.4 L1884.7 971.4 L1887.7 971.3 L1889.7 971.3 L1892.7 971.2 L1894.7 971.2 L1897.7 971.1 L1899.7 971.0 L1902.7 970.9 L1904.7 970.9 L1907.7 970.8 L1909.7 970.7 L1912.7 970.6 L1914.7 970.6 L1917.7 970.4 L1919.7 970.4 L1922.7 970.2 L1924.7 970.1 L1927.7 970.0 L1929.7 969.9 L1932.7 969.7 L1934.6 969.6 L1937.6 969.5 L1939.6 969.4 L1942.6 969.2 L1944.6 969.1 L1947.6 968.9 L1949.6 968.8 L1952.5 968.6 L1954.5 968.5" fill="none" stroke="#B27134" stroke-width="13.6" stroke-linejoin="round"/>
<circle cx="194.9" cy="971.9" r="6.80" fill="#B27134"/>
<path d="M196.0 1282.4 L198.0 1282.4 L201.0 1282.4 L203.0 1282.4 L206.0 1282.4 L208.0 1282.3 L211.0 1282.3 L213.0 1282.3 L216.0 1282.3 L218.0 1282.3 L221.0 1282.3 L223.0 1282.3 L226.0 1282.2 L228.0 1282.2 L231.0 1282.2 L233.0 1282.2 L236.0 1282.2 L238.0 1282.1 L241.0 1282.1 L243.0 1282.1 L246.0 1282.1 L248.0 1282.0 L251.0 1282.0 L253.0 1282.0 L256.0 1281.9 L258.0 1281.9 L261.0 1281.9 L263.0 1281.8 L266.0 1281.8 L268.0 1281.8 L271.0 1281.7 L273.0 1281.7 L276.0 1281.7 L278.0 1281.6 L281.0 1281.6 L283.0 1281.6 L286.0 1281.5 L288.0 1281.5 L291.0 1281.5 L293.0 1281.4 L296.0 1281.4 L298.0 1281.3 L301.0 1281.3 L303.0 1281.2 L306.0 1281.2 L308.0 1281.1 L311.0 1281.1 L313.0 1281.0 L316.0 1280.9 L318.0 1280.9 L321.0 1280.8 L323.0 1280.7 L326.0 1280.6 L328.0 1280.5 L331.0 1280.3 L333.0 1280.2 L336.0 1280.0 L338.0 1279.9 L341.0 1279.7 L343.0 1279.6 L345.9 1279.4 L347.9 1279.3 L350.9 1279.1 L352.9 1279.0 L355.9 1278.8 L357.9 1278.7 L360.9 1278.5 L362.9 1278.4 L365.9 1278.2 L367.9 1278.0 L370.9 1277.8 L372.9 1277.6 L375.9 1277.4 L377.9 1277.2 L380.9 1277.0 L382.8 1276.8 L385.8 1276.4 L387.8 1276.2 L390.8 1275.9 L392.8 1275.6 L395.8 1275.3 L397.7 1275.0 L400.7 1274.6 L402.7 1274.3 L405.7 1273.9 L407.6 1273.6 L410.6 1273.1 L412.6 1272.8 L415.5 1272.3 L417.5 1271.9 L420.4 1271.4 L422.4 1271.0 L425.3 1270.4 L427.3 1270.0 L430.2 1269.3 L432.2 1268.9 L435.1 1268.1 L437.0 1267.6 L439.9 1266.8 L441.8 1266.2 L444.7 1265.3 L446.6 1264.7 L449.4 1263.7 L451.2 1263.0 L454.0 1261.8 L455.8 1261.0 L458.5 1259.7 L460.3 1258.8 L462.9 1257.4 L464.6 1256.4 L467.2 1254.8 L468.9 1253.8 L471.4 1252.1 L473.0 1251.0 L475.5 1249.3 L477.2 1248.2 L479.7 1246.5 L481.3 1245.3 L483.7 1243.5 L485.2 1242.3 L487.5 1240.4 L489.0 1239.0 L491.2 1237.0 L492.6 1235.6 L494.8 1233.5 L496.2 1232.0 L498.3 1229.9 L499.7 1228.5 L501.8 1226.3 L503.2 1224.9 L505.3 1222.8 L506.6 1221.3 L508.7 1219.1 L510.1 1217.7 L512.2 1215.5 L513.6 1214.1 L515.8 1212.1 L517.3 1210.8 L519.6 1208.9 L521.2 1207.6 L523.6 1205.9 L525.3 1204.8 L527.8 1203.2 L529.6 1202.2 L532.2 1200.8 L534.1 1200.1 L536.9 1199.3 L538.9 1198.9 L541.9 1198.7 L543.9 1198.6 L546.9 1198.5 L548.9 1198.5 L551.9 1198.5 L553.9 1198.6 L556.9 1198.6 L558.9 1198.7 L561.9 1198.5 L563.8 1198.3 L566.8 1197.9 L568.8 1197.5 L571.6 1196.6 L573.4 1195.8 L576.0 1194.3 L577.6 1193.1 L580.0 1191.3 L581.6 1190.1 L583.8 1188.1 L585.3 1186.8 L587.5 1184.7 L588.9 1183.2 L590.9 1181.0 L592.2 1179.5 L594.2 1177.2 L595.4 1175.7 L597.2 1173.3 L598.4 1171.7 L600.1 1169.2 L601.1 1167.5 L602.6 1164.9 L603.5 1163.1 L604.8 1160.4 L605.5 1158.5 L606.5 1155.7 L607.2 1153.8 L608.2 1151.0 L608.9 1149.1 L609.9 1146.3 L610.6 1144.4 L611.7 1141.6 L612.4 1139.8 L613.4 1136.9 L614.0 1135.0 L614.9 1132.1 L615.4 1130.2 L616.1 1127.3 L616.6 1125.4 L617.3 1122.5 L617.8 1120.5 L618.7 1117.7 L619.3 1115.7 L620.3 1112.9 L620.9 1111.0 L622.0 1108.2 L622.7 1106.3 L623.7 1103.5 L624.4 1101.7 L625.5 1098.9 L626.3 1097.0 L627.4 1094.2 L628.1 1092.4 L629.3 1089.6 L630.0 1087.7 L631.2 1085.0 L632.0 1083.1 L633.2 1080.4 L634.0 1078.6 L635.2 1075.8 L636.0 1074.0 L637.2 1071.2 L638.0 1069.4 L639.2 1066.6 L640.0 1064.8 L641.4 1062.2 L642.4 1060.5 L644.2 1058.1 L645.5 1056.6 L647.6 1054.5 L649.2 1053.2 L651.6 1051.5 L653.3 1050.5 L656.0 1049.1 L657.8 1048.4 L660.7 1047.7 L662.6 1047.7 L665.5 1048.4 L667.2 1049.2 L669.8 1050.8 L671.4 1051.9 L673.9 1053.6 L675.5 1054.7 L678.0 1056.4 L679.7 1057.5 L682.2 1059.2 L683.9 1060.3 L686.4 1061.9 L688.1 1063.0 L690.6 1064.6 L692.3 1065.7 L694.8 1067.3 L696.4 1068.5 L698.9 1070.1 L700.6 1071.3 L703.0 1073.0 L704.7 1074.1 L707.1 1075.9 L708.7 1077.0 L711.2 1078.8 L712.8 1079.9 L715.3 1081.6 L716.9 1082.7 L719.5 1084.3 L721.2 1085.4 L723.7 1086.9 L725.4 1088.0 L728.0 1089.5 L729.8 1090.5 L732.3 1092.0 L734.1 1093.0 L736.6 1094.6 L738.3 1095.7 L740.8 1097.3 L742.4 1098.4 L744.9 1100.1 L746.6 1101.2 L749.1 1102.9 L750.7 1104.0 L753.3 1105.6 L755.0 1106.6 L757.5 1108.2 L759.3 1109.2 L761.9 1110.7 L763.6 1111.7 L766.2 1113.2 L767.9 1114.2 L770.6 1115.6 L772.3 1116.6 L774.9 1118.1 L776.6 1119.1 L779.2 1120.6 L780.9 1121.7 L783.5 1123.3 L785.1 1124.3 L787.7 1126.0 L789.3 1127.1 L791.8 1128.8 L793.5 1129.9 L795.9 1131.6 L797.6 1132.7 L800.1 1134.4 L801.7 1135.5 L804.2 1137.1 L805.9 1138.2 L808.5 1139.8 L810.2 1140.8 L812.7 1142.4 L814.4 1143.4 L817.0 1145.0 L818.7 1146.0 L821.3 1147.6 L823.0 1148.6 L825.6 1150.1 L827.3 1151.2 L829.9 1152.6 L831.7 1153.6 L834.3 1155.0 L836.1 1155.9 L838.8 1157.2 L840.6 1158.0 L843.3 1159.3 L845.2 1160.0 L847.9 1161.2 L849.8 1162.0 L852.6 1163.1 L854.4 1163.9 L857.2 1165.0 L859.0 1165.7 L861.8 1166.8 L863.7 1167.5 L866.5 1168.5 L868.4 1169.2 L871.2 1170.2 L873.1 1170.8 L876.0 1171.7 L877.9 1172.3 L880.8 1173.2 L882.7 1173.8 L885.5 1174.7 L887.4 1175.4 L890.3 1176.3 L892.2 1176.9 L895.0 1177.8 L896.9 1178.4 L899.8 1179.4 L901.7 1180.0 L904.6 1180.9 L906.5 1181.5 L909.3 1182.4 L911.3 1182.9 L914.1 1183.8 L916.1 1184.3 L919.0 1185.0 L920.9 1185.5 L923.8 1186.2 L925.8 1186.6 L928.7 1187.2 L930.7 1187.6 L933.6 1188.1 L935.6 1188.5 L938.6 1189.0 L940.5 1189.3 L943.5 1189.8 L945.5 1190.1 L948.4 1190.5 L950.4 1190.8 L953.4 1191.3 L955.4 1191.6 L958.3 1192.0 L960.3 1192.3 L963.3 1192.8 L965.2 1193.1 L968.2 1193.6 L970.2 1193.9 L973.1 1194.4 L975.1 1194.7 L978.1 1195.2 L980.0 1195.5 L983.0 1195.9 L985.0 1196.2 L988.0 1196.7 L989.9 1197.0 L992.9 1197.5 L994.9 1197.8 L997.8 1198.2 L999.8 1198.5 L1002.8 1199.0 L1004.8 1199.3 L1007.7 1199.7 L1009.7 1200.0 L1012.7 1200.4 L1014.7 1200.7 L1017.6 1201.1 L1019.6 1201.4 L1022.6 1201.8 L1024.6 1202.0 L1027.5 1202.5 L1029.5 1202.7 L1032.5 1203.1 L1034.5 1203.4 L1037.4 1203.8 L1039.4 1204.1 L1042.4 1204.5 L1044.4 1204.7 L1047.4 1205.2 L1049.3 1205.4 L1052.3 1205.8 L1054.3 1206.1 L1057.3 1206.5 L1059.2 1206.8 L1062.2 1207.2 L1064.2 1207.5 L1067.2 1207.9 L1069.1 1208.2 L1072.1 1208.6 L1074.1 1208.9 L1077.1 1209.3 L1079.0 1209.5 L1082.0 1209.9 L1084.0 1210.2 L1087.0 1210.6 L1089.0 1210.8 L1091.9 1211.2 L1093.9 1211.4 L1096.9 1211.8 L1098.9 1212.0 L1101.9 1212.3 L1103.9 1212.6 L1106.8 1212.9 L1108.8 1213.1 L1111.8 1213.4 L1113.8 1213.6 L1116.8 1214.0 L1118.8 1214.2 L1121.8 1214.5 L1123.8 1214.7 L1126.7 1215.0 L1128.7 1215.2 L1131.7 1215.5 L1133.7 1215.8 L1136.7 1216.1 L1138.7 1216.3 L1141.7 1216.6 L1143.6 1216.8 L1146.6 1217.1 L1148.6 1217.3 L1151.6 1217.6 L1153.6 1217.8 L1156.6 1218.1 L1158.6 1218.3 L1161.6 1218.6 L1163.5 1218.8 L1166.5 1219.1 L1168.5 1219.3 L1171.5 1219.5 L1173.5 1219.7 L1176.5 1220.0 L1178.5 1220.2 L1181.5 1220.4 L1183.5 1220.6 L1186.4 1220.9 L1188.4 1221.1 L1191.4 1221.3 L1193.4 1221.5 L1196.4 1221.7 L1198.4 1221.9 L1201.4 1222.2 L1203.4 1222.3 L1206.4 1222.6 L1208.4 1222.8 L1211.4 1223.0 L1213.3 1223.2 L1216.3 1223.4 L1218.3 1223.6 L1221.3 1223.9 L1223.3 1224.0 L1226.3 1224.3 L1228.3 1224.5 L1231.3 1224.7 L1233.3 1224.9 L1236.3 1225.2 L1238.3 1225.3 L1241.2 1225.5 L1243.2 1225.7 L1246.2 1225.9 L1248.2 1226.1 L1251.2 1226.2 L1253.2 1226.4 L1256.2 1226.5 L1258.2 1226.6 L1261.2 1226.7 L1263.2 1226.8 L1266.2 1226.8 L1268.2 1226.9 L1271.2 1226.9 L1273.2 1226.9 L1276.2 1227.0 L1278.2 1227.0 L1281.2 1227.0 L1283.2 1227.0 L1286.2 1227.0 L1288.2 1227.0 L1291.2 1226.9 L1293.2 1226.9 L1296.2 1226.9 L1298.2 1226.9 L1301.2 1226.8 L1303.2 1226.8 L1306.2 1226.8 L1308.2 1226.8 L1311.2 1226.8 L1313.2 1226.7 L1316.2 1226.7 L1318.2 1226.7 L1321.2 1226.7 L1323.2 1226.7 L1326.2 1226.8 L1328.2 1226.8 L1331.2 1226.8 L1333.2 1226.9 L1336.2 1227.0 L1338.2 1227.0 L1341.2 1227.1 L1343.2 1227.2 L1346.2 1227.3 L1348.2 1227.4 L1351.2 1227.5 L1353.2 1227.6 L1356.2 1227.8 L1358.2 1227.9 L1361.2 1228.1 L1363.2 1228.3 L1366.2 1228.5 L1368.2 1228.6 L1371.1 1228.8 L1373.1 1229.0 L1376.1 1229.3 L1378.1 1229.4 L1381.1 1229.7 L1383.1 1229.9 L1386.1 1230.2 L1388.1 1230.4 L1391.1 1230.7 L1393.0 1230.9 L1396.0 1231.2 L1398.0 1231.5 L1401.0 1231.8 L1403.0 1232.1 L1406.0 1232.4 L1407.9 1232.7 L1410.9 1233.1 L1412.9 1233.4 L1415.9 1233.8 L1417.8 1234.1 L1420.8 1234.6 L1422.8 1234.9 L1425.7 1235.3 L1427.7 1235.7 L1430.7 1236.2 L1432.6 1236.5 L1435.6 1237.0 L1437.6 1237.4 L1440.5 1237.9 L1442.5 1238.3 L1445.4 1238.9 L1447.4 1239.2 L1450.3 1239.8 L1452.3 1240.2 L1455.2 1240.7 L1457.2 1241.1 L1460.2 1241.7 L1462.1 1242.1 L1465.1 1242.6 L1467.0 1243.0 L1470.0 1243.6 L1471.9 1244.0 L1474.9 1244.6 L1476.8 1245.0 L1479.8 1245.6 L1481.7 1246.0 L1484.7 1246.6 L1486.6 1247.0 L1489.6 1247.6 L1491.5 1248.0 L1494.5 1248.6 L1496.4 1248.9 L1499.4 1249.5 L1501.3 1249.9 L1504.3 1250.4 L1506.3 1250.8 L1509.2 1251.3 L1511.2 1251.7 L1514.1 1252.2 L1516.1 1252.5 L1519.1 1253.1 L1521.0 1253.4 L1524.0 1253.9 L1526.0 1254.2 L1528.9 1254.7 L1530.9 1255.1 L1533.9 1255.5 L1535.8 1255.9 L1538.8 1256.3 L1540.8 1256.6 L1543.7 1257.1 L1545.7 1257.4 L1548.7 1257.8 L1550.7 1258.1 L1553.6 1258.5 L1555.6 1258.8 L1558.6 1259.2 L1560.6 1259.4 L1563.5 1259.8 L1565.5 1260.1 L1568.5 1260.5 L1570.5 1260.8 L1573.5 1261.2 L1575.4 1261.4 L1578.4 1261.8 L1580.4 1262.1 L1583.4 1262.5 L1585.4 1262.7 L1588.3 1263.1 L1590.3 1263.4 L1593.3 1263.8 L1595.3 1264.1 L1598.2 1264.5 L1600.2 1264.7 L1603.2 1265.1 L1605.2 1265.4 L1608.1 1265.8 L1610.1 1266.1 L1613.1 1266.4 L1615.1 1266.7 L1618.1 1267.1 L1620.0 1267.3 L1623.0 1267.7 L1625.0 1268.0 L1628.0 1268.4 L1630.0 1268.6 L1632.9 1269.0 L1634.9 1269.3 L1637.9 1269.6 L1639.9 1269.9 L1642.9 1270.3 L1644.8 1270.5 L1647.8 1270.9 L1649.8 1271.1 L1652.8 1271.5 L1654.8 1271.7 L1657.8 1272.0 L1659.7 1272.3 L1662.7 1272.6 L1664.7 1272.8 L1667.7 1273.1 L1669.7 1273.3 L1672.7 1273.7 L1674.7 1273.9 L1677.6 1274.2 L1679.6 1274.3 L1682.6 1274.6 L1684.6 1274.8 L1687.6 1275.1 L1689.6 1275.3 L1692.6 1275.6 L1694.6 1275.8 L1697.6 1276.1 L1699.5 1276.2 L1702.5 1276.5 L1704.5 1276.7 L1707.5 1277.0 L1709.5 1277.2 L1712.5 1277.5 L1714.5 1277.7 L1717.5 1278.0 L1719.4 1278.2 L1722.4 1278.5 L1724.4 1278.7 L1727.4 1279.0 L1729.4 1279.2 L1732.4 1279.5 L1734.4 1279.7 L1737.4 1279.9 L1739.4 1280.1 L1742.3 1280.4 L1744.3 1280.6 L1747.3 1280.8 L1749.3 1281.0 L1752.3 1281.2 L1754.3 1281.3 L1757.3 1281.5 L1759.3 1281.7 L1762.3 1281.8 L1764.3 1281.9 L1767.3 1282.1 L1769.3 1282.2 L1772.3 1282.4 L1774.3 1282.4 L1777.3 1282.6 L1779.3 1282.7 L1782.3 1282.8 L1784.3 1282.9 L1787.3 1283.0 L1789.3 1283.1 L1792.3 1283.2 L1794.3 1283.3 L1797.3 1283.4 L1799.2 1283.5 L1802.2 1283.6 L1804.2 1283.7 L1807.2 1283.9 L1809.2 1284.0 L1812.2 1284.1 L1814.2 1284.2 L1817.2 1284.3 L1819.2 1284.4 L1822.2 1284.6 L1824.2 1284.6 L1827.2 1284.8 L1829.2 1284.8 L1832.2 1284.9 L1834.2 1285.0 L1837.2 1285.0 L1839.2 1285.1 L1842.2 1285.1 L1844.2 1285.1 L1847.2 1285.1 L1849.2 1285.1 L1852.2 1285.1 L1854.2 1285.1 L1857.2 1285.0 L1859.2 1285.0 L1862.2 1284.9 L1864.2 1284.9 L1867.2 1284.8 L1869.2 1284.7 L1872.2 1284.6 L1874.2 1284.6 L1877.2 1284.5 L1879.2 1284.4 L1882.2 1284.3 L1884.2 1284.2 L1887.2 1284.1 L1889.2 1284.0 L1892.2 1283.9 L1894.2 1283.9 L1897.2 1283.8 L1899.2 1283.7 L1902.2 1283.7 L1904.2 1283.6 L1907.2 1283.6 L1909.2 1283.5 L1912.2 1283.5 L1914.2 1283.5 L1917.2 1283.4 L1919.2 1283.4 L1922.2 1283.4 L1924.2 1283.4 L1927.2 1283.4 L1929.2 1283.4 L1932.2 1283.4 L1934.2 1283.4 L1937.2 1283.4 L1939.2 1283.4 L1942.1 1283.4 L1944.1 1283.4 L1947.0 1283.5 L1948.9 1283.5 L1951.7 1283.5 L1953.6 1283.5 L1954.5 1283.5" fill="none" stroke="#4C9CDE" stroke-width="13.8" stroke-linejoin="round"/>
<circle cx="196.0" cy="1282.4" r="6.90" fill="#4C9CDE"/>
<path d="M196.5 1557.0 L198.5 1557.0 L201.5 1557.0 L203.5 1557.0 L206.5 1556.9 L208.5 1556.9 L211.5 1556.9 L213.5 1556.9 L216.5 1556.9 L218.5 1556.8 L221.5 1556.8 L223.5 1556.8 L226.5 1556.8 L228.5 1556.8 L231.5 1556.7 L233.5 1556.7 L236.5 1556.7 L238.5 1556.6 L241.5 1556.6 L243.5 1556.6 L246.5 1556.5 L248.5 1556.5 L251.5 1556.4 L253.5 1556.4 L256.5 1556.3 L258.5 1556.3 L261.5 1556.2 L263.5 1556.2 L266.5 1556.1 L268.5 1556.0 L271.5 1555.9 L273.5 1555.9 L276.5 1555.8 L278.5 1555.7 L281.5 1555.7 L283.5 1555.6 L286.5 1555.5 L288.5 1555.4 L291.5 1555.4 L293.5 1555.3 L296.5 1555.2 L298.5 1555.1 L301.5 1555.0 L303.5 1555.0 L306.5 1554.8 L308.5 1554.8 L311.5 1554.6 L313.5 1554.6 L316.5 1554.4 L318.5 1554.3 L321.5 1554.2 L323.5 1554.0 L326.4 1553.9 L328.4 1553.8 L331.4 1553.6 L333.4 1553.4 L336.4 1553.2 L338.4 1553.1 L341.4 1552.9 L343.4 1552.7 L346.4 1552.5 L348.4 1552.3 L351.4 1552.1 L353.4 1551.9 L356.4 1551.6 L358.3 1551.4 L361.3 1551.1 L363.3 1550.9 L366.3 1550.6 L368.3 1550.3 L371.3 1550.0 L373.3 1549.7 L376.2 1549.4 L378.2 1549.1 L381.2 1548.7 L383.2 1548.4 L386.1 1548.0 L388.1 1547.7 L391.1 1547.3 L393.1 1547.0 L396.0 1546.5 L398.0 1546.1 L400.9 1545.6 L402.9 1545.2 L405.8 1544.6 L407.8 1544.2 L410.7 1543.6 L412.7 1543.1 L415.6 1542.4 L417.5 1541.9 L420.4 1541.1 L422.3 1540.5 L425.2 1539.7 L427.1 1539.1 L429.9 1538.1 L431.8 1537.5 L434.7 1536.5 L436.5 1535.8 L439.3 1534.7 L441.2 1533.9 L443.9 1532.7 L445.7 1531.9 L448.4 1530.5 L450.1 1529.6 L452.7 1528.1 L454.4 1527.1 L456.9 1525.4 L458.5 1524.2 L460.8 1522.4 L462.3 1521.1 L464.5 1519.1 L465.9 1517.7 L468.0 1515.5 L469.3 1514.0 L471.3 1511.8 L472.6 1510.3 L474.6 1508.0 L476.0 1506.6 L478.1 1504.4 L479.5 1503.0 L481.6 1500.9 L482.9 1499.4 L484.9 1497.2 L486.3 1495.7 L488.2 1493.4 L489.5 1491.8 L491.3 1489.5 L492.5 1487.9 L494.3 1485.5 L495.5 1483.9 L497.2 1481.4 L498.4 1479.8 L500.2 1477.4 L501.4 1475.8 L503.2 1473.4 L504.5 1471.9 L506.3 1469.5 L507.6 1467.9 L509.4 1465.5 L510.6 1463.9 L512.3 1461.5 L513.5 1459.9 L515.1 1457.4 L516.2 1455.7 L517.8 1453.1 L518.7 1451.4 L520.3 1448.8 L521.3 1447.1 L523.1 1444.6 L524.3 1443.1 L526.3 1440.9 L527.8 1439.6 L530.3 1438.1 L532.2 1437.4 L535.0 1436.9 L537.0 1437.1 L539.8 1437.9 L541.5 1438.8 L544.1 1440.5 L545.7 1441.6 L548.1 1443.4 L549.7 1444.6 L552.1 1446.4 L553.6 1447.7 L556.1 1449.4 L557.8 1450.4 L560.5 1451.7 L562.3 1452.5 L565.2 1453.4 L567.1 1454.0 L570.0 1454.7 L571.9 1455.1 L574.9 1455.6 L576.9 1455.8 L579.9 1455.9 L581.8 1455.7 L584.8 1455.2 L586.6 1454.5 L589.2 1453.1 L590.7 1451.9 L592.8 1449.7 L594.1 1448.2 L596.1 1446.0 L597.5 1444.5 L599.6 1442.4 L601.0 1440.9 L602.9 1438.6 L604.0 1437.0 L605.5 1434.4 L606.5 1432.6 L607.8 1430.0 L608.7 1428.2 L610.0 1425.5 L610.9 1423.7 L612.1 1420.9 L613.0 1419.1 L614.3 1416.4 L615.1 1414.6 L616.5 1411.9 L617.4 1410.2 L618.8 1407.5 L619.8 1405.8 L621.3 1403.2 L622.4 1401.5 L624.0 1399.0 L625.1 1397.3 L626.9 1394.9 L628.1 1393.3 L630.0 1390.9 L631.2 1389.4 L633.1 1387.1 L634.4 1385.6 L636.4 1383.3 L637.8 1381.9 L640.1 1380.0 L641.8 1378.9 L644.4 1377.5 L646.2 1376.6 L649.0 1375.7 L651.0 1375.4 L653.9 1375.6 L655.8 1376.0 L658.7 1376.8 L660.6 1377.5 L663.4 1378.6 L665.2 1379.5 L667.9 1380.8 L669.6 1381.7 L672.3 1383.1 L674.1 1383.9 L676.9 1385.0 L678.8 1385.7 L681.6 1386.8 L683.4 1387.6 L686.1 1388.9 L687.9 1389.8 L690.5 1391.3 L692.2 1392.3 L694.8 1393.8 L696.5 1394.8 L699.1 1396.4 L700.8 1397.4 L703.4 1399.0 L705.1 1400.0 L707.6 1401.6 L709.3 1402.6 L711.9 1404.2 L713.6 1405.2 L716.2 1406.8 L717.9 1407.8 L720.4 1409.4 L722.2 1410.4 L724.8 1411.9 L726.5 1412.9 L729.1 1414.4 L730.8 1415.4 L733.4 1416.9 L735.1 1417.9 L737.7 1419.4 L739.5 1420.4 L742.1 1421.9 L743.8 1422.9 L746.4 1424.3 L748.2 1425.3 L750.9 1426.6 L752.6 1427.5 L755.3 1428.8 L757.2 1429.7 L759.9 1430.9 L761.7 1431.7 L764.5 1432.9 L766.3 1433.7 L769.1 1434.9 L770.9 1435.6 L773.7 1436.8 L775.6 1437.5 L778.4 1438.6 L780.2 1439.3 L783.0 1440.4 L784.9 1441.1 L787.7 1442.1 L789.6 1442.8 L792.4 1443.8 L794.3 1444.4 L797.1 1445.4 L799.0 1446.1 L801.9 1447.1 L803.7 1447.8 L806.6 1448.8 L808.5 1449.4 L811.3 1450.4 L813.2 1451.0 L816.0 1452.0 L817.9 1452.6 L820.8 1453.5 L822.7 1454.1 L825.6 1454.9 L827.5 1455.4 L830.4 1456.2 L832.4 1456.7 L835.3 1457.4 L837.2 1457.8 L840.2 1458.5 L842.1 1458.9 L845.0 1459.6 L847.0 1460.0 L849.9 1460.6 L851.9 1461.1 L854.8 1461.7 L856.8 1462.1 L859.7 1462.8 L861.6 1463.2 L864.6 1463.8 L866.5 1464.2 L869.5 1464.8 L871.4 1465.2 L874.4 1465.8 L876.3 1466.2 L879.3 1466.8 L881.2 1467.2 L884.2 1467.8 L886.1 1468.1 L889.1 1468.7 L891.1 1469.0 L894.0 1469.6 L896.0 1470.0 L898.9 1470.5 L900.9 1470.9 L903.8 1471.4 L905.8 1471.8 L908.8 1472.3 L910.7 1472.7 L913.7 1473.2 L915.7 1473.5 L918.6 1474.1 L920.6 1474.4 L923.5 1474.9 L925.5 1475.3 L928.5 1475.8 L930.4 1476.2 L933.4 1476.7 L935.3 1477.0 L938.3 1477.6 L940.3 1477.9 L943.2 1478.5 L945.2 1478.8 L948.1 1479.4 L950.1 1479.8 L953.0 1480.4 L955.0 1480.8 L957.9 1481.5 L959.9 1481.9 L962.8 1482.5 L964.7 1483.0 L967.7 1483.7 L969.6 1484.1 L972.5 1484.8 L974.5 1485.3 L977.4 1486.0 L979.3 1486.4 L982.3 1487.1 L984.2 1487.6 L987.1 1488.3 L989.1 1488.7 L992.0 1489.4 L994.0 1489.8 L996.9 1490.5 L998.8 1490.9 L1001.8 1491.6 L1003.7 1492.0 L1006.6 1492.7 L1008.6 1493.1 L1011.5 1493.7 L1013.5 1494.2 L1016.4 1494.8 L1018.4 1495.2 L1021.3 1495.8 L1023.3 1496.2 L1026.2 1496.8 L1028.2 1497.2 L1031.1 1497.8 L1033.1 1498.2 L1036.0 1498.7 L1038.0 1499.1 L1040.9 1499.6 L1042.9 1500.0 L1045.9 1500.5 L1047.8 1500.8 L1050.8 1501.3 L1052.8 1501.6 L1055.7 1502.1 L1057.7 1502.4 L1060.7 1502.9 L1062.6 1503.2 L1065.6 1503.6 L1067.6 1503.9 L1070.6 1504.3 L1072.5 1504.6 L1075.5 1505.0 L1077.5 1505.2 L1080.5 1505.6 L1082.5 1505.8 L1085.5 1506.1 L1087.4 1506.4 L1090.4 1506.7 L1092.4 1506.9 L1095.4 1507.2 L1097.4 1507.4 L1100.4 1507.6 L1102.4 1507.8 L1105.4 1508.1 L1107.3 1508.3 L1110.3 1508.6 L1112.3 1508.7 L1115.3 1509.0 L1117.3 1509.2 L1120.3 1509.5 L1122.3 1509.7 L1125.3 1510.0 L1127.3 1510.2 L1130.2 1510.5 L1132.2 1510.7 L1135.2 1511.0 L1137.2 1511.2 L1140.2 1511.5 L1142.2 1511.7 L1145.2 1512.0 L1147.2 1512.1 L1150.1 1512.4 L1152.1 1512.6 L1155.1 1512.8 L1157.1 1512.9 L1160.1 1513.1 L1162.1 1513.3 L1165.1 1513.5 L1167.1 1513.6 L1170.1 1513.7 L1172.1 1513.8 L1175.1 1513.9 L1177.1 1514.0 L1180.1 1514.1 L1182.1 1514.2 L1185.1 1514.3 L1187.1 1514.3 L1190.1 1514.4 L1192.1 1514.5 L1195.1 1514.5 L1197.1 1514.6 L1200.1 1514.7 L1202.1 1514.7 L1205.1 1514.7 L1207.1 1514.8 L1210.1 1514.8 L1212.1 1514.8 L1215.1 1514.9 L1217.1 1514.9 L1220.1 1514.9 L1222.1 1514.9 L1225.1 1514.9 L1227.1 1515.0 L1230.1 1515.0 L1232.1 1515.0 L1235.1 1515.0 L1237.1 1515.0 L1240.1 1515.0 L1242.1 1515.0 L1245.1 1514.9 L1247.1 1514.9 L1250.1 1514.9 L1252.1 1514.9 L1255.1 1514.9 L1257.1 1514.9 L1260.1 1514.9 L1262.1 1515.0 L1265.1 1515.0 L1267.1 1515.0 L1270.1 1515.1 L1272.1 1515.1 L1275.1 1515.2 L1277.1 1515.2 L1280.1 1515.3 L1282.1 1515.3 L1285.1 1515.4 L1287.1 1515.4 L1290.1 1515.5 L1292.1 1515.5 L1295.1 1515.6 L1297.1 1515.7 L1300.1 1515.8 L1302.1 1515.8 L1305.1 1515.9 L1307.1 1516.0 L1310.1 1516.1 L1312.1 1516.2 L1315.1 1516.4 L1317.1 1516.5 L1320.0 1516.6 L1322.0 1516.8 L1325.0 1516.9 L1327.0 1517.1 L1330.0 1517.3 L1332.0 1517.5 L1335.0 1517.7 L1337.0 1517.9 L1340.0 1518.1 L1342.0 1518.3 L1345.0 1518.6 L1347.0 1518.8 L1349.9 1519.1 L1351.9 1519.3 L1354.9 1519.6 L1356.9 1519.8 L1359.9 1520.1 L1361.9 1520.3 L1364.9 1520.6 L1366.9 1520.8 L1369.8 1521.1 L1371.8 1521.3 L1374.8 1521.6 L1376.8 1521.8 L1379.8 1522.1 L1381.8 1522.3 L1384.8 1522.6 L1386.8 1522.8 L1389.7 1523.1 L1391.7 1523.3 L1394.7 1523.6 L1396.7 1523.8 L1399.7 1524.1 L1401.7 1524.3 L1404.7 1524.6 L1406.7 1524.8 L1409.6 1525.1 L1411.6 1525.3 L1414.6 1525.6 L1416.6 1525.8 L1419.6 1526.1 L1421.6 1526.3 L1424.6 1526.6 L1426.6 1526.8 L1429.5 1527.1 L1431.5 1527.3 L1434.5 1527.6 L1436.5 1527.8 L1439.5 1528.1 L1441.5 1528.3 L1444.5 1528.6 L1446.5 1528.8 L1449.4 1529.1 L1451.4 1529.3 L1454.4 1529.6 L1456.4 1529.8 L1459.4 1530.1 L1461.4 1530.3 L1464.4 1530.5 L1466.4 1530.7 L1469.3 1531.0 L1471.3 1531.2 L1474.3 1531.5 L1476.3 1531.7 L1479.3 1532.0 L1481.3 1532.2 L1484.3 1532.5 L1486.3 1532.7 L1489.3 1533.0 L1491.2 1533.2 L1494.2 1533.5 L1496.2 1533.7 L1499.2 1534.0 L1501.2 1534.2 L1504.2 1534.5 L1506.2 1534.8 L1509.1 1535.1 L1511.1 1535.4 L1514.1 1535.7 L1516.1 1536.0 L1519.1 1536.4 L1521.0 1536.6 L1524.0 1537.0 L1526.0 1537.3 L1529.0 1537.7 L1530.9 1538.0 L1533.9 1538.4 L1535.9 1538.7 L1538.9 1539.1 L1540.8 1539.4 L1543.8 1539.8 L1545.8 1540.1 L1548.8 1540.5 L1550.7 1540.8 L1553.7 1541.2 L1555.7 1541.4 L1558.7 1541.8 L1560.7 1542.1 L1563.6 1542.4 L1565.6 1542.7 L1568.6 1543.0 L1570.6 1543.2 L1573.6 1543.6 L1575.6 1543.8 L1578.6 1544.1 L1580.5 1544.3 L1583.5 1544.6 L1585.5 1544.7 L1588.5 1545.0 L1590.5 1545.2 L1593.5 1545.4 L1595.5 1545.6 L1598.5 1545.9 L1600.5 1546.0 L1603.5 1546.3 L1605.4 1546.4 L1608.4 1546.6 L1610.4 1546.8 L1613.4 1547.0 L1615.4 1547.2 L1618.4 1547.4 L1620.4 1547.6 L1623.4 1547.8 L1625.4 1547.9 L1628.4 1548.2 L1630.4 1548.3 L1633.4 1548.6 L1635.4 1548.7 L1638.4 1548.9 L1640.3 1549.1 L1643.3 1549.3 L1645.3 1549.5 L1648.3 1549.7 L1650.3 1549.8 L1653.3 1550.0 L1655.3 1550.2 L1658.3 1550.4 L1660.3 1550.5 L1663.3 1550.7 L1665.3 1550.9 L1668.3 1551.1 L1670.3 1551.2 L1673.3 1551.4 L1675.3 1551.5 L1678.3 1551.7 L1680.3 1551.8 L1683.2 1552.0 L1685.2 1552.1 L1688.2 1552.3 L1690.2 1552.4 L1693.2 1552.6 L1695.2 1552.7 L1698.2 1552.9 L1700.2 1553.0 L1703.2 1553.2 L1705.2 1553.3 L1708.2 1553.4 L1710.2 1553.5 L1713.2 1553.7 L1715.2 1553.8 L1718.2 1553.9 L1720.2 1554.0 L1723.2 1554.2 L1725.2 1554.3 L1728.2 1554.4 L1730.2 1554.5 L1733.2 1554.6 L1735.2 1554.7 L1738.2 1554.8 L1740.2 1554.9 L1743.2 1555.0 L1745.2 1555.0 L1748.2 1555.1 L1750.2 1555.2 L1753.2 1555.3 L1755.2 1555.3 L1758.2 1555.4 L1760.2 1555.5 L1763.2 1555.5 L1765.2 1555.6 L1768.2 1555.7 L1770.2 1555.7 L1773.2 1555.8 L1775.2 1555.8 L1778.2 1555.9 L1780.2 1555.9 L1783.2 1555.9 L1785.2 1556.0 L1788.2 1556.0 L1790.2 1556.1 L1793.2 1556.1 L1795.2 1556.1 L1798.2 1556.2 L1800.2 1556.2 L1803.2 1556.2 L1805.2 1556.2 L1808.2 1556.3 L1810.2 1556.3 L1813.2 1556.3 L1815.2 1556.3 L1818.2 1556.3 L1820.2 1556.4 L1823.2 1556.4 L1825.2 1556.4 L1828.2 1556.4 L1830.2 1556.4 L1833.2 1556.4 L1835.2 1556.4 L1838.2 1556.4 L1840.2 1556.4 L1843.2 1556.4 L1845.2 1556.4 L1848.2 1556.4 L1850.2 1556.5 L1853.2 1556.5 L1855.2 1556.5 L1858.2 1556.4 L1860.2 1556.4 L1863.2 1556.4 L1865.2 1556.4 L1868.2 1556.4 L1870.2 1556.4 L1873.2 1556.4 L1875.2 1556.4 L1878.2 1556.4 L1880.2 1556.4 L1883.2 1556.4 L1885.2 1556.3 L1888.2 1556.3 L1890.2 1556.3 L1893.2 1556.2 L1895.2 1556.2 L1898.2 1556.2 L1900.2 1556.1 L1903.2 1556.1 L1905.2 1556.0 L1908.2 1555.9 L1910.2 1555.9 L1913.1 1555.8 L1915.1 1555.8 L1918.1 1555.7 L1920.1 1555.6 L1923.1 1555.5 L1925.1 1555.4 L1928.1 1555.3 L1930.1 1555.3 L1933.1 1555.2 L1935.1 1555.1 L1938.1 1555.1 L1940.1 1555.0 L1943.1 1555.0 L1945.0 1555.0 L1947.9 1555.0 L1949.8 1555.0 L1952.6 1555.0 L1954.5 1555.0" fill="none" stroke="#4667AA" stroke-width="13.0" stroke-linejoin="round"/>
<circle cx="196.5" cy="1557.0" r="6.50" fill="#4667AA"/>
<ellipse cx="194.9" cy="970.4" rx="6" ry="9.4" fill="#B27134"/>
<g fill="#000">
<rect x="1472.0" y="113.0" width="13" height="26.6"/>
<rect x="1472.0" y="158.1" width="13" height="26.6"/>
<rect x="1472.0" y="203.2" width="13" height="26.6"/>
<rect x="1472.0" y="248.3" width="13" height="14.7"/>
<rect x="1807.1" y="184.0" width="13" height="26.6"/>
<rect x="1807.1" y="229.1" width="13" height="26.6"/>
<rect x="1807.1" y="274.2" width="13" height="26.6"/>
<rect x="1807.1" y="319.3" width="13" height="14.7"/>
<rect x="667.5" y="479.0" width="13" height="26.6"/>
<rect x="667.5" y="524.1" width="13" height="26.6"/>
<rect x="667.5" y="569.2" width="13" height="26.6"/>
<rect x="667.5" y="614.3" width="13" height="12.1"/>
<rect x="809.0" y="389.0" width="13" height="26.6"/>
<rect x="809.0" y="434.1" width="13" height="26.6"/>
<rect x="809.0" y="479.2" width="13" height="26.6"/>
<rect x="809.0" y="524.3" width="13" height="14.4"/>
<rect x="1520.1" y="509.0" width="13" height="26.6"/>
<rect x="1520.1" y="554.1" width="13" height="26.6"/>
<rect x="1520.1" y="599.2" width="13" height="26.6"/>
<rect x="1520.1" y="644.3" width="13" height="14.0"/>
<rect x="627.5" y="616.0" width="13" height="26.6"/>
<rect x="627.5" y="661.1" width="13" height="26.6"/>
<rect x="627.5" y="706.2" width="13" height="26.6"/>
<rect x="627.5" y="751.3" width="13" height="14.3"/>
<rect x="754.1" y="694.3" width="13" height="26.6"/>
<rect x="754.1" y="739.4" width="13" height="26.6"/>
<rect x="754.1" y="784.5" width="13" height="26.6"/>
<rect x="754.1" y="829.6" width="13" height="14.2"/>
<rect x="537.4" y="797.6" width="13" height="26.6"/>
<rect x="537.4" y="842.7" width="13" height="26.6"/>
<rect x="537.4" y="887.8" width="13" height="26.6"/>
<rect x="537.4" y="932.9" width="13" height="13.8"/>
<rect x="1317.1" y="810.0" width="13" height="26.6"/>
<rect x="1317.1" y="855.1" width="13" height="26.6"/>
<rect x="1317.1" y="900.2" width="13" height="26.6"/>
<rect x="1317.1" y="945.3" width="13" height="13.4"/>
<rect x="649.0" y="974.1" width="13" height="26.6"/>
<rect x="649.0" y="1019.2" width="13" height="26.6"/>
<rect x="649.0" y="1064.3" width="13" height="26.6"/>
<rect x="649.0" y="1109.4" width="13" height="14.4"/>
<rect x="527.5" y="1165.1" width="13" height="26.6"/>
<rect x="527.5" y="1210.2" width="13" height="26.6"/>
<rect x="527.5" y="1255.3" width="13" height="26.6"/>
<rect x="527.5" y="1300.4" width="13" height="13.0"/>
<rect x="526.0" y="1382.0" width="13" height="26.6"/>
<rect x="526.0" y="1427.1" width="13" height="26.6"/>
<rect x="526.0" y="1472.2" width="13" height="26.6"/>
<rect x="526.0" y="1517.3" width="13" height="12.5"/>
<rect x="654.0" y="1307.1" width="13" height="26.6"/>
<rect x="654.0" y="1352.2" width="13" height="26.6"/>
<rect x="654.0" y="1397.3" width="13" height="26.6"/>
<rect x="654.0" y="1442.4" width="13" height="14.4"/>
</g>
<text transform="translate(1614.7 150.8) scale(1.0064 1)" font-size="120.5" fill="#A965A1">W/AC</text>
<text transform="translate(1277.0 157.6) scale(0.9954 1)" font-size="120.5" fill="#000">685</text>
<text x="1607.0" y="252.5" font-size="120.5" fill="#000">840</text>
<text x="1315.5" y="468.9" font-size="120.5" fill="#516864">Ni-0.5W/AC</text>
<text transform="translate(936.3 448.5) scale(1.0071 1)" font-size="120.5" fill="#000">386</text>
<text x="477.3" y="507.9" font-size="120.5" fill="#000">323</text>
<text transform="translate(1587.0 601.8) scale(1.0170 1)" font-size="120.5" fill="#000">707</text>
<text transform="translate(419.4 738.8) scale(0.9961 1)" font-size="120.5" fill="#000">304</text>
<text transform="translate(726.3 693.6) scale(1.0047 1)" font-size="120.5" fill="#000">362</text>
<text x="1309.3" y="786.0" font-size="120.5" fill="#B27134">Ni-0.2W/AC</text>
<text transform="translate(350.2 850.8) scale(1.0064 1)" font-size="120.5" fill="#000">266</text>
<text transform="translate(1113.0 841.8) scale(0.9943 1)" font-size="120.5" fill="#000">622</text>
<text x="676.3" y="1061.6" font-size="120.5" fill="#000">314</text>
<text transform="translate(423.0 1123.7) scale(1.0105 1)" font-size="120.5" fill="#000">260</text>
<text x="1247.6" y="1167.0" font-size="120.5" fill="#4C9CDE">Ni-0.05W/AC</text>
<text transform="translate(340.2 1422.7) scale(1.0034 1)" font-size="120.5" fill="#000">258</text>
<text transform="translate(701.4 1384.7) scale(1.0106 1)" font-size="120.5" fill="#000">316</text>
<text transform="translate(1614.5 1477.3) scale(1.0065 1)" font-size="120.5" fill="#4667AA">Ni/AC</text>
<text transform="translate(300.4 1770.6) scale(1.0074 1)" font-size="131.0" fill="#000">200</text>
<text transform="translate(749.0 1770.8) scale(0.9816 1)" font-size="131.0" fill="#000">400</text>
<text transform="translate(572.9 1894.9) scale(0.9915 1)" font-size="130.0" fill="#000">Temperature (°C)</text>
<text transform="translate(1190.2 1770.8) scale(0.9954 1)" font-size="131.0" fill="#000">600</text>
<text transform="translate(1634.1 1770.8) scale(0.9947 1)" font-size="131.0" fill="#000">800</text>
<text transform="translate(122 1277.5) rotate(-90) translate(-2.1 0) scale(0.9859 1)" font-size="130" fill="#000">TCD Signal (a.u.)</text>
</svg></body></html>
